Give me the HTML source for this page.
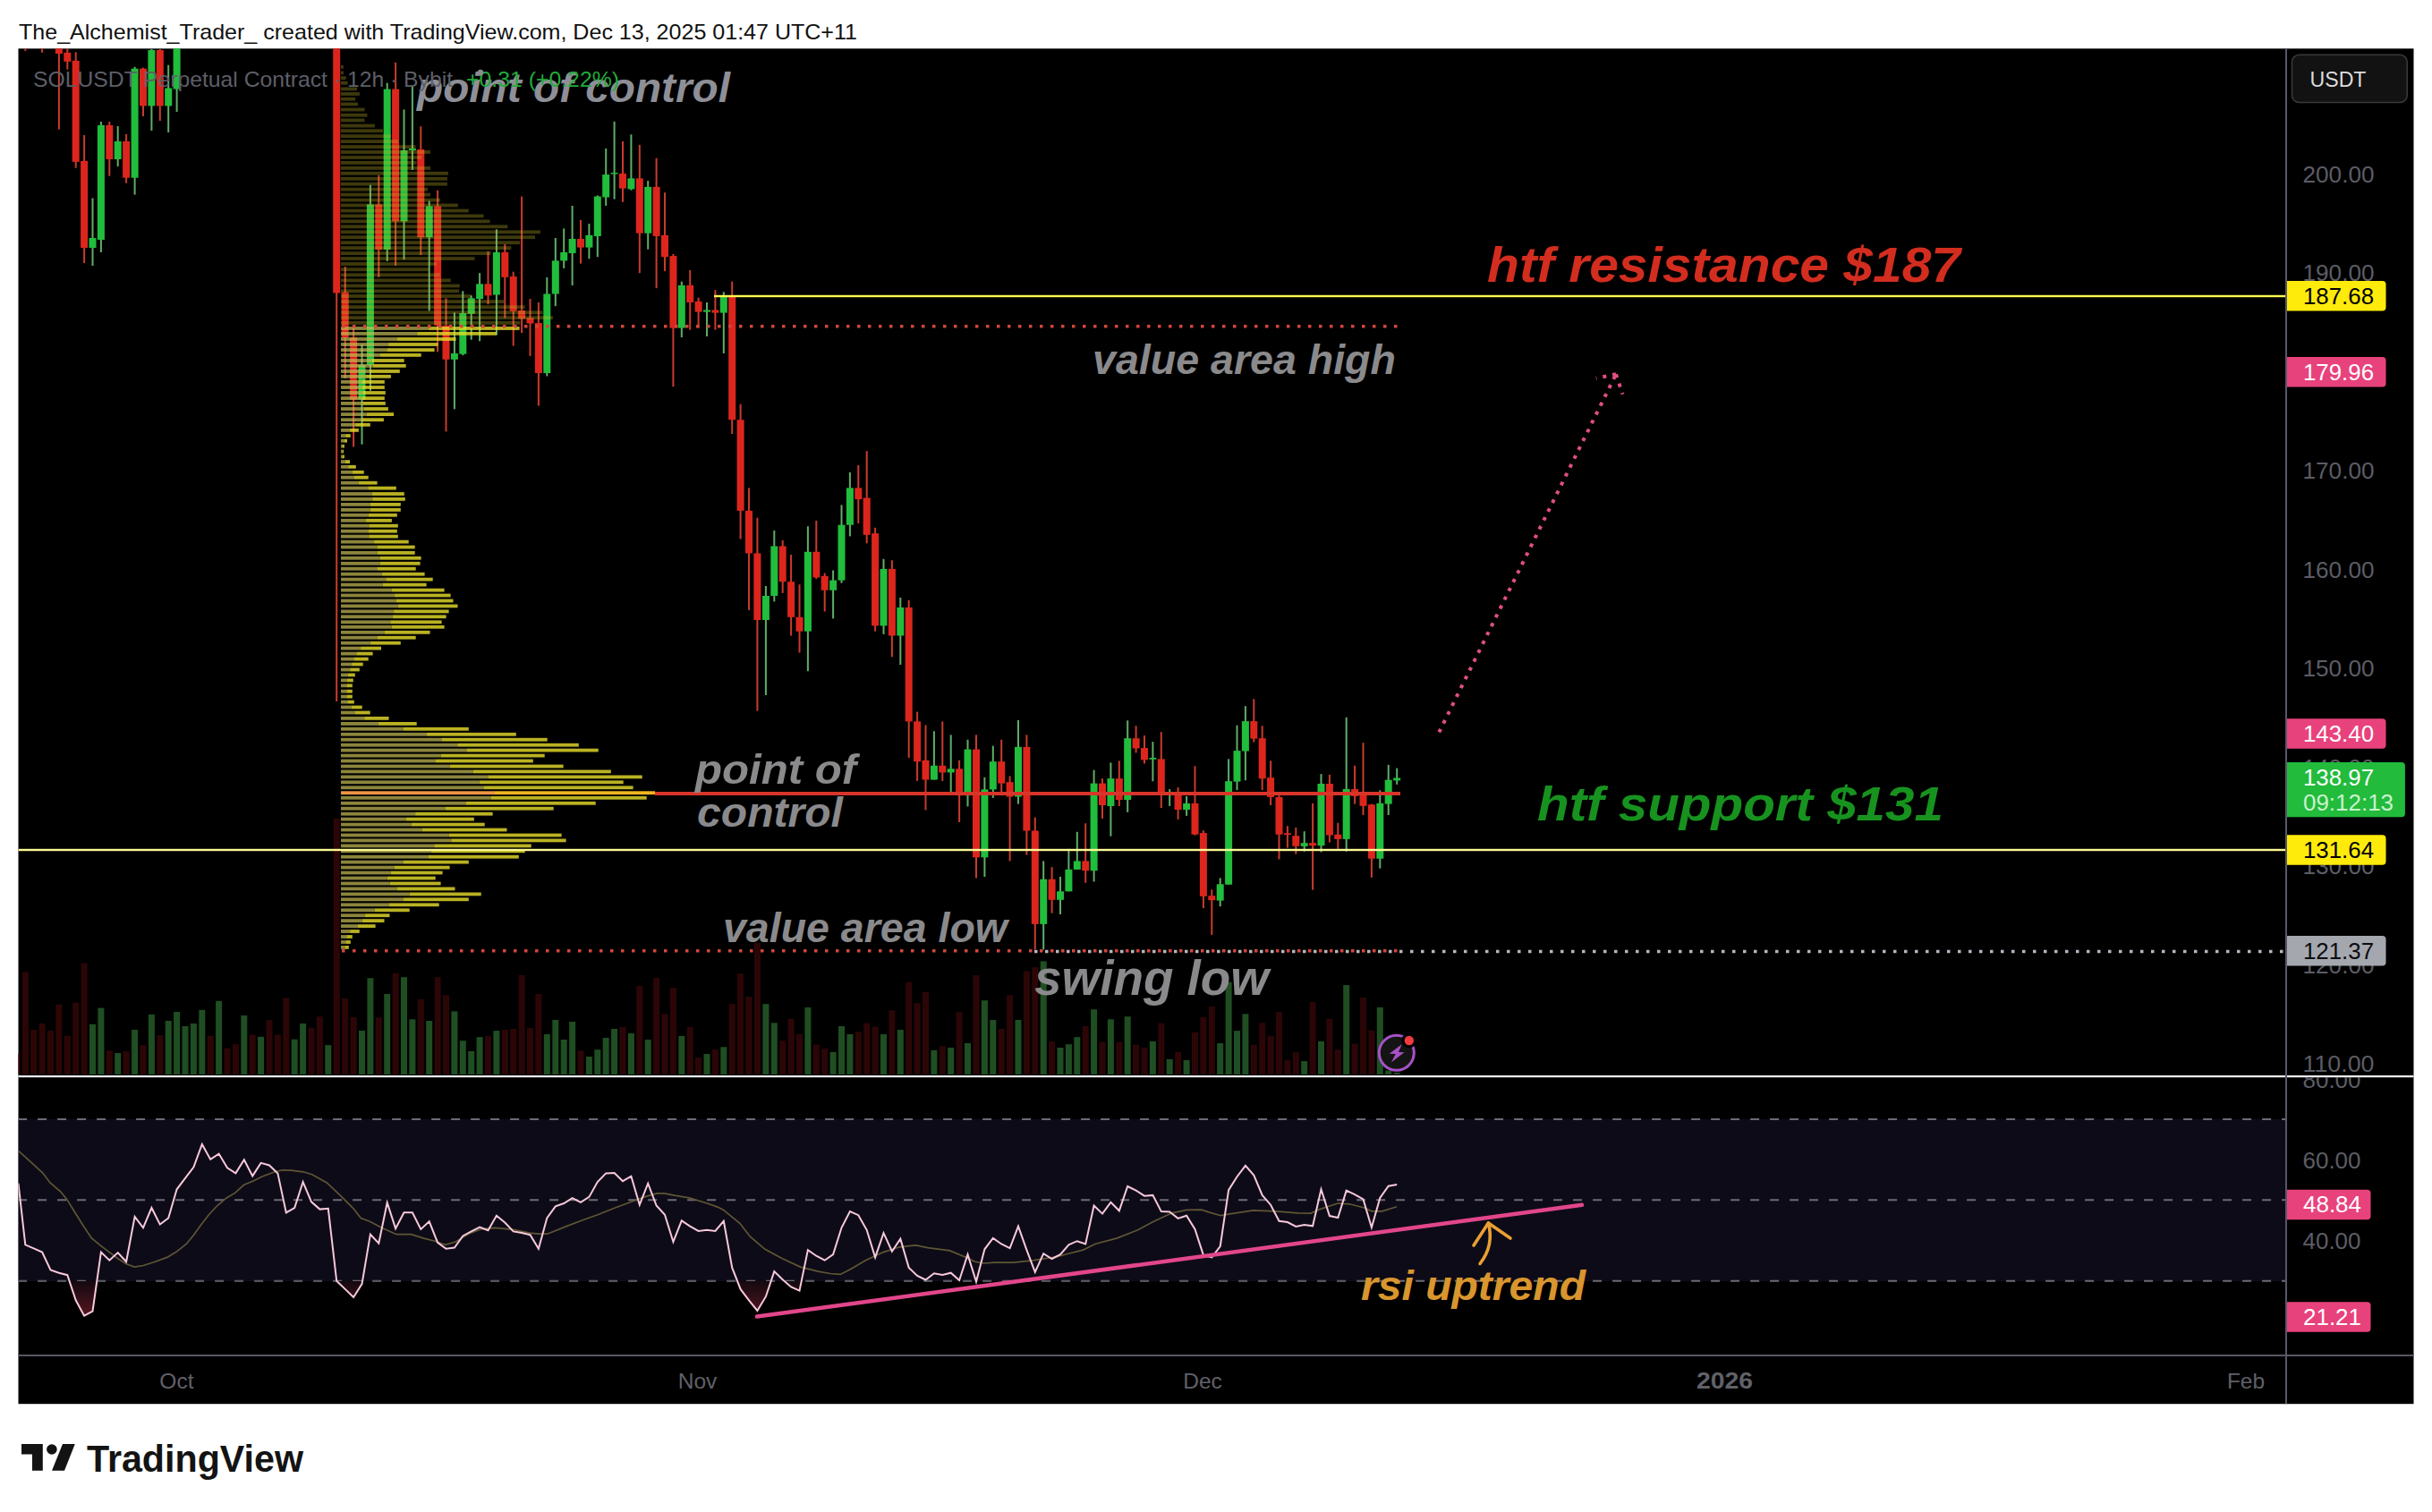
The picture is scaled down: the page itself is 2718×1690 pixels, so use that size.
<!DOCTYPE html><html><head><meta charset="utf-8"><style>html,body{margin:0;padding:0;background:#fff;overflow:hidden}svg{display:block}</style></head><body>
<svg width="2718" height="1690" viewBox="0 0 2718 1690" font-family="&apos;Liberation Sans&apos;, sans-serif">
<defs>
<clipPath id="pane"><rect x="20.5" y="54.3" width="2534" height="1147.7"/></clipPath>
<clipPath id="rsipane"><rect x="20.5" y="1204" width="2534" height="310"/></clipPath>
<clipPath id="below30"><rect x="20.5" y="1431.8" width="2534" height="82"/></clipPath>
<clipPath id="axisR"><rect x="2556" y="1204" width="142" height="310"/></clipPath>
<linearGradient id="osg" gradientUnits="userSpaceOnUse" x1="0" y1="1431.8" x2="0" y2="1476"><stop offset="0" stop-color="#140910"/><stop offset="1" stop-color="#5e1822"/></linearGradient>
</defs>
<rect x="0" y="0" width="2718" height="1690" fill="#ffffff"/>
<text x="21" y="44" font-size="23.8" fill="#111111" textLength="937" lengthAdjust="spacingAndGlyphs">The_Alchemist_Trader_ created with TradingView.com, Dec 13, 2025 01:47 UTC+11</text>
<rect x="20.5" y="54.3" width="2677" height="1514.9" fill="#000000"/>
<g clip-path="url(#pane)">
<rect x="15.4" y="1177.7" width="7" height="23.3" fill="#2c0607"/><rect x="24.8" y="1086.6" width="7" height="114.4" fill="#2c0607"/><rect x="34.2" y="1151.0" width="7" height="50.0" fill="#2c0607"/><rect x="43.6" y="1144.0" width="7" height="57.0" fill="#2c0607"/><rect x="53.0" y="1152.0" width="7" height="49.0" fill="#2c0607"/><rect x="62.4" y="1122.8" width="7" height="78.2" fill="#2c0607"/><rect x="71.8" y="1157.7" width="7" height="43.3" fill="#2c0607"/><rect x="81.2" y="1120.6" width="7" height="80.4" fill="#2c0607"/><rect x="90.6" y="1076.7" width="7" height="124.3" fill="#2c0607"/><rect x="100.0" y="1144.8" width="7" height="56.2" fill="#1f4e22"/><rect x="109.4" y="1126.6" width="7" height="74.4" fill="#1f4e22"/><rect x="118.8" y="1174.3" width="7" height="26.7" fill="#2c0607"/><rect x="128.2" y="1177.0" width="7" height="24.0" fill="#1f4e22"/><rect x="137.6" y="1175.0" width="7" height="26.0" fill="#2c0607"/><rect x="147.1" y="1151.0" width="7" height="50.0" fill="#1f4e22"/><rect x="156.5" y="1168.1" width="7" height="32.9" fill="#2c0607"/><rect x="165.9" y="1133.9" width="7" height="67.1" fill="#1f4e22"/><rect x="175.3" y="1157.0" width="7" height="44.0" fill="#2c0607"/><rect x="184.7" y="1141.0" width="7" height="60.0" fill="#1f4e22"/><rect x="194.1" y="1131.0" width="7" height="70.0" fill="#1f4e22"/><rect x="203.5" y="1147.0" width="7" height="54.0" fill="#1f4e22"/><rect x="212.9" y="1144.0" width="7" height="57.0" fill="#1f4e22"/><rect x="222.3" y="1128.8" width="7" height="72.2" fill="#1f4e22"/><rect x="231.7" y="1157.7" width="7" height="43.3" fill="#2c0607"/><rect x="241.1" y="1118.8" width="7" height="82.2" fill="#1f4e22"/><rect x="250.5" y="1171.7" width="7" height="29.3" fill="#2c0607"/><rect x="259.9" y="1167.2" width="7" height="33.8" fill="#2c0607"/><rect x="269.3" y="1135.0" width="7" height="66.0" fill="#1f4e22"/><rect x="278.7" y="1156.6" width="7" height="44.4" fill="#2c0607"/><rect x="288.1" y="1158.8" width="7" height="42.2" fill="#1f4e22"/><rect x="297.5" y="1140.0" width="7" height="61.0" fill="#2c0607"/><rect x="306.9" y="1156.6" width="7" height="44.4" fill="#2c0607"/><rect x="316.3" y="1115.5" width="7" height="85.5" fill="#2c0607"/><rect x="325.7" y="1161.7" width="7" height="39.3" fill="#1f4e22"/><rect x="335.1" y="1144.0" width="7" height="57.0" fill="#1f4e22"/><rect x="344.5" y="1148.8" width="7" height="52.2" fill="#2c0607"/><rect x="353.9" y="1136.2" width="7" height="64.8" fill="#2c0607"/><rect x="363.3" y="1168.1" width="7" height="32.9" fill="#1f4e22"/><rect x="372.7" y="915.0" width="7" height="286.0" fill="#2c0607"/><rect x="382.2" y="1116.0" width="7" height="85.0" fill="#2c0607"/><rect x="391.6" y="1137.0" width="7" height="64.0" fill="#2c0607"/><rect x="401.0" y="1152.0" width="7" height="49.0" fill="#1f4e22"/><rect x="410.4" y="1093.3" width="7" height="107.7" fill="#1f4e22"/><rect x="419.8" y="1137.3" width="7" height="63.7" fill="#2c0607"/><rect x="429.2" y="1111.0" width="7" height="90.0" fill="#1f4e22"/><rect x="438.6" y="1087.8" width="7" height="113.2" fill="#2c0607"/><rect x="448.0" y="1092.2" width="7" height="108.8" fill="#1f4e22"/><rect x="457.4" y="1139.3" width="7" height="61.7" fill="#1f4e22"/><rect x="466.8" y="1117.0" width="7" height="84.0" fill="#2c0607"/><rect x="476.2" y="1141.0" width="7" height="60.0" fill="#1f4e22"/><rect x="485.6" y="1092.2" width="7" height="108.8" fill="#2c0607"/><rect x="495.0" y="1112.2" width="7" height="88.8" fill="#2c0607"/><rect x="504.4" y="1130.4" width="7" height="70.6" fill="#1f4e22"/><rect x="513.8" y="1163.2" width="7" height="37.8" fill="#1f4e22"/><rect x="523.2" y="1175.0" width="7" height="26.0" fill="#1f4e22"/><rect x="532.6" y="1159.2" width="7" height="41.8" fill="#1f4e22"/><rect x="542.0" y="1158.1" width="7" height="42.9" fill="#2c0607"/><rect x="551.4" y="1152.1" width="7" height="48.9" fill="#1f4e22"/><rect x="560.8" y="1151.0" width="7" height="50.0" fill="#2c0607"/><rect x="570.2" y="1150.0" width="7" height="51.0" fill="#2c0607"/><rect x="579.6" y="1090.0" width="7" height="111.0" fill="#2c0607"/><rect x="589.0" y="1148.8" width="7" height="52.2" fill="#2c0607"/><rect x="598.4" y="1111.0" width="7" height="90.0" fill="#2c0607"/><rect x="607.8" y="1156.0" width="7" height="45.0" fill="#1f4e22"/><rect x="617.3" y="1140.0" width="7" height="61.0" fill="#1f4e22"/><rect x="626.7" y="1162.0" width="7" height="39.0" fill="#1f4e22"/><rect x="636.1" y="1142.0" width="7" height="59.0" fill="#1f4e22"/><rect x="645.5" y="1174.3" width="7" height="26.7" fill="#2c0607"/><rect x="654.9" y="1181.0" width="7" height="20.0" fill="#1f4e22"/><rect x="664.3" y="1173.2" width="7" height="27.8" fill="#1f4e22"/><rect x="673.7" y="1160.0" width="7" height="41.0" fill="#1f4e22"/><rect x="683.1" y="1150.0" width="7" height="51.0" fill="#1f4e22"/><rect x="692.5" y="1148.0" width="7" height="53.0" fill="#2c0607"/><rect x="701.9" y="1155.0" width="7" height="46.0" fill="#1f4e22"/><rect x="711.3" y="1102.2" width="7" height="98.8" fill="#2c0607"/><rect x="720.7" y="1162.0" width="7" height="39.0" fill="#1f4e22"/><rect x="730.1" y="1093.3" width="7" height="107.7" fill="#2c0607"/><rect x="739.5" y="1133.3" width="7" height="67.7" fill="#2c0607"/><rect x="748.9" y="1104.0" width="7" height="97.0" fill="#2c0607"/><rect x="758.3" y="1158.0" width="7" height="43.0" fill="#1f4e22"/><rect x="767.7" y="1148.0" width="7" height="53.0" fill="#2c0607"/><rect x="777.1" y="1182.0" width="7" height="19.0" fill="#2c0607"/><rect x="786.5" y="1178.0" width="7" height="23.0" fill="#1f4e22"/><rect x="795.9" y="1173.2" width="7" height="27.8" fill="#2c0607"/><rect x="805.3" y="1170.3" width="7" height="30.7" fill="#1f4e22"/><rect x="814.7" y="1122.2" width="7" height="78.8" fill="#2c0607"/><rect x="824.1" y="1088.2" width="7" height="112.8" fill="#2c0607"/><rect x="833.5" y="1114.0" width="7" height="87.0" fill="#2c0607"/><rect x="842.9" y="1054.0" width="7" height="147.0" fill="#2c0607"/><rect x="852.4" y="1122.2" width="7" height="78.8" fill="#1f4e22"/><rect x="861.8" y="1143.3" width="7" height="57.7" fill="#1f4e22"/><rect x="871.2" y="1163.2" width="7" height="37.8" fill="#2c0607"/><rect x="880.6" y="1138.8" width="7" height="62.2" fill="#2c0607"/><rect x="890.0" y="1156.0" width="7" height="45.0" fill="#2c0607"/><rect x="899.4" y="1126.0" width="7" height="75.0" fill="#1f4e22"/><rect x="908.8" y="1167.7" width="7" height="33.3" fill="#2c0607"/><rect x="918.2" y="1172.0" width="7" height="29.0" fill="#2c0607"/><rect x="927.6" y="1175.9" width="7" height="25.1" fill="#1f4e22"/><rect x="937.0" y="1147.0" width="7" height="54.0" fill="#1f4e22"/><rect x="946.4" y="1156.0" width="7" height="45.0" fill="#1f4e22"/><rect x="955.8" y="1153.2" width="7" height="47.8" fill="#2c0607"/><rect x="965.2" y="1143.7" width="7" height="57.3" fill="#2c0607"/><rect x="974.6" y="1147.7" width="7" height="53.3" fill="#2c0607"/><rect x="984.0" y="1156.0" width="7" height="45.0" fill="#1f4e22"/><rect x="993.4" y="1129.3" width="7" height="71.7" fill="#2c0607"/><rect x="1002.8" y="1151.0" width="7" height="50.0" fill="#1f4e22"/><rect x="1012.2" y="1097.7" width="7" height="103.3" fill="#2c0607"/><rect x="1021.6" y="1121.0" width="7" height="80.0" fill="#2c0607"/><rect x="1031.0" y="1108.8" width="7" height="92.2" fill="#2c0607"/><rect x="1040.4" y="1173.9" width="7" height="27.1" fill="#1f4e22"/><rect x="1049.8" y="1169.2" width="7" height="31.8" fill="#2c0607"/><rect x="1059.2" y="1171.0" width="7" height="30.0" fill="#1f4e22"/><rect x="1068.6" y="1131.5" width="7" height="69.5" fill="#2c0607"/><rect x="1078.0" y="1166.0" width="7" height="35.0" fill="#1f4e22"/><rect x="1087.5" y="1090.0" width="7" height="111.0" fill="#2c0607"/><rect x="1096.9" y="1118.2" width="7" height="82.8" fill="#1f4e22"/><rect x="1106.3" y="1140.0" width="7" height="61.0" fill="#1f4e22"/><rect x="1115.7" y="1150.0" width="7" height="51.0" fill="#2c0607"/><rect x="1125.1" y="1112.2" width="7" height="88.8" fill="#2c0607"/><rect x="1134.5" y="1140.0" width="7" height="61.0" fill="#1f4e22"/><rect x="1143.9" y="1085.5" width="7" height="115.5" fill="#2c0607"/><rect x="1153.3" y="1081.1" width="7" height="119.9" fill="#2c0607"/><rect x="1162.7" y="1074.4" width="7" height="126.6" fill="#1f4e22"/><rect x="1172.1" y="1163.9" width="7" height="37.1" fill="#2c0607"/><rect x="1181.5" y="1171.0" width="7" height="30.0" fill="#1f4e22"/><rect x="1190.9" y="1167.2" width="7" height="33.8" fill="#1f4e22"/><rect x="1200.3" y="1159.2" width="7" height="41.8" fill="#1f4e22"/><rect x="1209.7" y="1147.0" width="7" height="54.0" fill="#2c0607"/><rect x="1219.1" y="1128.2" width="7" height="72.8" fill="#1f4e22"/><rect x="1228.5" y="1164.4" width="7" height="36.6" fill="#2c0607"/><rect x="1237.9" y="1139.3" width="7" height="61.7" fill="#1f4e22"/><rect x="1247.3" y="1164.8" width="7" height="36.2" fill="#2c0607"/><rect x="1256.7" y="1136.2" width="7" height="64.8" fill="#1f4e22"/><rect x="1266.1" y="1167.7" width="7" height="33.3" fill="#2c0607"/><rect x="1275.5" y="1171.0" width="7" height="30.0" fill="#2c0607"/><rect x="1284.9" y="1163.9" width="7" height="37.1" fill="#1f4e22"/><rect x="1294.3" y="1143.7" width="7" height="57.3" fill="#2c0607"/><rect x="1303.7" y="1183.9" width="7" height="17.1" fill="#1f4e22"/><rect x="1313.1" y="1175.9" width="7" height="25.1" fill="#2c0607"/><rect x="1322.6" y="1185.0" width="7" height="16.0" fill="#1f4e22"/><rect x="1332.0" y="1153.9" width="7" height="47.1" fill="#2c0607"/><rect x="1341.4" y="1137.0" width="7" height="64.0" fill="#2c0607"/><rect x="1350.8" y="1125.0" width="7" height="76.0" fill="#2c0607"/><rect x="1360.2" y="1166.1" width="7" height="34.9" fill="#1f4e22"/><rect x="1369.6" y="1097.7" width="7" height="103.3" fill="#1f4e22"/><rect x="1379.0" y="1152.1" width="7" height="48.9" fill="#1f4e22"/><rect x="1388.4" y="1133.3" width="7" height="67.7" fill="#1f4e22"/><rect x="1397.8" y="1167.7" width="7" height="33.3" fill="#2c0607"/><rect x="1407.2" y="1143.3" width="7" height="57.7" fill="#2c0607"/><rect x="1416.6" y="1157.7" width="7" height="43.3" fill="#2c0607"/><rect x="1426.0" y="1131.0" width="7" height="70.0" fill="#2c0607"/><rect x="1435.4" y="1185.0" width="7" height="16.0" fill="#2c0607"/><rect x="1444.8" y="1176.1" width="7" height="24.9" fill="#2c0607"/><rect x="1454.2" y="1186.1" width="7" height="14.9" fill="#1f4e22"/><rect x="1463.6" y="1120.0" width="7" height="81.0" fill="#2c0607"/><rect x="1473.0" y="1163.9" width="7" height="37.1" fill="#1f4e22"/><rect x="1482.4" y="1138.8" width="7" height="62.2" fill="#2c0607"/><rect x="1491.8" y="1173.2" width="7" height="27.8" fill="#2c0607"/><rect x="1501.2" y="1101.1" width="7" height="99.9" fill="#1f4e22"/><rect x="1510.6" y="1166.6" width="7" height="34.4" fill="#2c0607"/><rect x="1520.0" y="1115.0" width="7" height="86.0" fill="#2c0607"/><rect x="1529.4" y="1151.7" width="7" height="49.3" fill="#2c0607"/><rect x="1538.8" y="1126.0" width="7" height="75.0" fill="#1f4e22"/><rect x="1548.2" y="1196.5" width="7" height="4.5" fill="#1f4e22"/><rect x="1557.7" y="1198.8" width="7" height="2.2" fill="#1f4e22"/>
<rect x="27.3" y="40.0" width="2" height="16.9" fill="#c93b2d"/><rect x="24.3" y="40.0" width="8" height="14.0" fill="#dc261d"/><rect x="46.1" y="40.0" width="2" height="18.8" fill="#c93b2d"/><rect x="43.1" y="40.0" width="8" height="14.0" fill="#dc261d"/><rect x="64.9" y="54.0" width="2" height="90.6" fill="#c93b2d"/><rect x="61.9" y="54.0" width="8" height="6.0" fill="#dc261d"/><rect x="74.3" y="54.0" width="2" height="23.7" fill="#c93b2d"/><rect x="71.3" y="58.8" width="8" height="10.0" fill="#dc261d"/><rect x="83.7" y="58.3" width="2" height="129.5" fill="#c93b2d"/><rect x="80.7" y="67.8" width="8" height="113.1" fill="#dc261d"/><rect x="93.1" y="151.0" width="2" height="143.0" fill="#c93b2d"/><rect x="90.1" y="179.9" width="8" height="97.1" fill="#dc261d"/><rect x="102.5" y="221.5" width="2" height="75.5" fill="#5fad68"/><rect x="99.5" y="266.0" width="8" height="11.0" fill="#21bd3c"/><rect x="111.9" y="136.0" width="2" height="146.0" fill="#5fad68"/><rect x="108.9" y="140.0" width="8" height="128.0" fill="#21bd3c"/><rect x="121.3" y="136.0" width="2" height="60.7" fill="#c93b2d"/><rect x="118.3" y="140.0" width="8" height="38.0" fill="#dc261d"/><rect x="130.7" y="141.0" width="2" height="45.0" fill="#5fad68"/><rect x="127.7" y="158.0" width="8" height="20.0" fill="#21bd3c"/><rect x="140.1" y="150.0" width="2" height="54.7" fill="#c93b2d"/><rect x="137.1" y="158.0" width="8" height="40.7" fill="#dc261d"/><rect x="149.6" y="74.7" width="2" height="142.9" fill="#5fad68"/><rect x="146.6" y="76.7" width="8" height="122.0" fill="#21bd3c"/><rect x="159.0" y="75.7" width="2" height="54.3" fill="#c93b2d"/><rect x="156.0" y="76.7" width="8" height="41.7" fill="#dc261d"/><rect x="168.4" y="54.9" width="2" height="91.1" fill="#5fad68"/><rect x="165.4" y="55.9" width="8" height="62.5" fill="#21bd3c"/><rect x="177.8" y="55.0" width="2" height="80.0" fill="#c93b2d"/><rect x="174.8" y="56.0" width="8" height="62.4" fill="#dc261d"/><rect x="187.2" y="72.7" width="2" height="75.3" fill="#5fad68"/><rect x="184.2" y="98.5" width="8" height="19.9" fill="#21bd3c"/><rect x="196.6" y="40.0" width="2" height="85.0" fill="#5fad68"/><rect x="193.6" y="40.0" width="8" height="59.5" fill="#21bd3c"/><rect x="375.2" y="40.0" width="2" height="744.0" fill="#c93b2d"/><rect x="372.2" y="40.0" width="8" height="287.5" fill="#dc261d"/><rect x="384.7" y="298.0" width="2" height="125.0" fill="#c93b2d"/><rect x="381.7" y="326.7" width="8" height="50.8" fill="#dc261d"/><rect x="394.1" y="364.0" width="2" height="135.5" fill="#c93b2d"/><rect x="391.1" y="377.5" width="8" height="69.2" fill="#dc261d"/><rect x="403.5" y="385.0" width="2" height="111.7" fill="#5fad68"/><rect x="400.5" y="407.9" width="8" height="38.8" fill="#21bd3c"/><rect x="412.9" y="206.7" width="2" height="230.1" fill="#5fad68"/><rect x="409.9" y="228.5" width="8" height="179.4" fill="#21bd3c"/><rect x="422.3" y="195.8" width="2" height="114.0" fill="#c93b2d"/><rect x="419.3" y="228.5" width="8" height="50.5" fill="#dc261d"/><rect x="431.7" y="92.7" width="2" height="199.3" fill="#5fad68"/><rect x="428.7" y="99.6" width="8" height="179.4" fill="#21bd3c"/><rect x="441.1" y="69.9" width="2" height="227.1" fill="#c93b2d"/><rect x="438.1" y="99.6" width="8" height="147.8" fill="#dc261d"/><rect x="450.5" y="122.4" width="2" height="167.6" fill="#5fad68"/><rect x="447.5" y="168.0" width="8" height="79.4" fill="#21bd3c"/><rect x="459.9" y="96.6" width="2" height="93.3" fill="#5fad68"/><rect x="456.9" y="166.0" width="8" height="2.0" fill="#21bd3c"/><rect x="469.3" y="141.3" width="2" height="143.7" fill="#c93b2d"/><rect x="466.3" y="167.0" width="8" height="98.2" fill="#dc261d"/><rect x="478.7" y="224.6" width="2" height="122.9" fill="#5fad68"/><rect x="475.7" y="230.5" width="8" height="34.7" fill="#21bd3c"/><rect x="488.1" y="212.7" width="2" height="180.7" fill="#c93b2d"/><rect x="485.1" y="230.5" width="8" height="133.3" fill="#dc261d"/><rect x="497.5" y="333.3" width="2" height="149.1" fill="#c93b2d"/><rect x="494.5" y="363.8" width="8" height="38.0" fill="#dc261d"/><rect x="506.9" y="349.3" width="2" height="108.0" fill="#5fad68"/><rect x="503.9" y="395.0" width="8" height="6.8" fill="#21bd3c"/><rect x="516.3" y="325.3" width="2" height="71.9" fill="#5fad68"/><rect x="513.3" y="350.0" width="8" height="45.7" fill="#21bd3c"/><rect x="525.7" y="330.3" width="2" height="49.4" fill="#5fad68"/><rect x="522.7" y="333.3" width="8" height="17.5" fill="#21bd3c"/><rect x="535.1" y="305.2" width="2" height="76.1" fill="#5fad68"/><rect x="532.1" y="317.4" width="8" height="16.7" fill="#21bd3c"/><rect x="544.5" y="281.0" width="2" height="59.2" fill="#c93b2d"/><rect x="541.5" y="317.4" width="8" height="12.9" fill="#dc261d"/><rect x="553.9" y="256.3" width="2" height="118.1" fill="#5fad68"/><rect x="550.9" y="282.0" width="8" height="47.5" fill="#21bd3c"/><rect x="563.3" y="273.0" width="2" height="82.4" fill="#c93b2d"/><rect x="560.3" y="282.0" width="8" height="27.8" fill="#dc261d"/><rect x="572.7" y="303.7" width="2" height="82.9" fill="#c93b2d"/><rect x="569.7" y="309.0" width="8" height="38.8" fill="#dc261d"/><rect x="582.1" y="219.6" width="2" height="152.5" fill="#c93b2d"/><rect x="579.1" y="347.0" width="8" height="9.2" fill="#dc261d"/><rect x="591.5" y="334.1" width="2" height="63.9" fill="#c93b2d"/><rect x="588.5" y="355.4" width="8" height="6.1" fill="#dc261d"/><rect x="600.9" y="338.0" width="2" height="115.5" fill="#c93b2d"/><rect x="597.9" y="361.0" width="8" height="56.0" fill="#dc261d"/><rect x="610.3" y="310.0" width="2" height="110.5" fill="#5fad68"/><rect x="607.3" y="328.5" width="8" height="88.5" fill="#21bd3c"/><rect x="619.8" y="266.0" width="2" height="76.2" fill="#5fad68"/><rect x="616.8" y="291.4" width="8" height="37.1" fill="#21bd3c"/><rect x="629.2" y="255.4" width="2" height="44.5" fill="#5fad68"/><rect x="626.2" y="281.9" width="8" height="9.5" fill="#21bd3c"/><rect x="638.6" y="230.0" width="2" height="89.0" fill="#5fad68"/><rect x="635.6" y="267.0" width="8" height="16.0" fill="#21bd3c"/><rect x="648.0" y="246.0" width="2" height="48.6" fill="#c93b2d"/><rect x="645.0" y="267.0" width="8" height="9.6" fill="#dc261d"/><rect x="657.4" y="250.0" width="2" height="39.3" fill="#5fad68"/><rect x="654.4" y="262.9" width="8" height="13.7" fill="#21bd3c"/><rect x="666.8" y="218.4" width="2" height="68.8" fill="#5fad68"/><rect x="663.8" y="219.5" width="8" height="44.5" fill="#21bd3c"/><rect x="676.2" y="166.0" width="2" height="64.0" fill="#5fad68"/><rect x="673.2" y="195.1" width="8" height="25.4" fill="#21bd3c"/><rect x="685.6" y="135.9" width="2" height="86.7" fill="#5fad68"/><rect x="682.6" y="193.0" width="8" height="1.5" fill="#21bd3c"/><rect x="695.0" y="158.0" width="2" height="67.8" fill="#c93b2d"/><rect x="692.0" y="194.0" width="8" height="16.6" fill="#dc261d"/><rect x="704.4" y="150.3" width="2" height="62.4" fill="#5fad68"/><rect x="701.4" y="199.4" width="8" height="12.0" fill="#21bd3c"/><rect x="713.8" y="161.9" width="2" height="143.3" fill="#c93b2d"/><rect x="710.8" y="199.4" width="8" height="61.3" fill="#dc261d"/><rect x="723.2" y="202.1" width="2" height="76.6" fill="#5fad68"/><rect x="720.2" y="208.9" width="8" height="51.8" fill="#21bd3c"/><rect x="732.6" y="176.7" width="2" height="145.4" fill="#c93b2d"/><rect x="729.6" y="208.9" width="8" height="55.0" fill="#dc261d"/><rect x="742.0" y="215.2" width="2" height="87.9" fill="#c93b2d"/><rect x="739.0" y="262.9" width="8" height="24.3" fill="#dc261d"/><rect x="751.4" y="284.0" width="2" height="148.2" fill="#c93b2d"/><rect x="748.4" y="286.1" width="8" height="80.5" fill="#dc261d"/><rect x="760.8" y="314.7" width="2" height="62.4" fill="#5fad68"/><rect x="757.8" y="318.9" width="8" height="47.7" fill="#21bd3c"/><rect x="770.2" y="302.0" width="2" height="66.7" fill="#c93b2d"/><rect x="767.2" y="318.9" width="8" height="19.1" fill="#dc261d"/><rect x="779.6" y="332.7" width="2" height="33.9" fill="#c93b2d"/><rect x="776.6" y="337.0" width="8" height="11.6" fill="#dc261d"/><rect x="789.0" y="338.0" width="2" height="38.0" fill="#5fad68"/><rect x="786.0" y="346.5" width="8" height="2.1" fill="#21bd3c"/><rect x="798.4" y="324.2" width="2" height="44.5" fill="#c93b2d"/><rect x="795.4" y="346.5" width="8" height="3.1" fill="#dc261d"/><rect x="807.8" y="326.3" width="2" height="68.7" fill="#5fad68"/><rect x="804.8" y="330.6" width="8" height="19.0" fill="#21bd3c"/><rect x="817.2" y="314.7" width="2" height="170.3" fill="#c93b2d"/><rect x="814.2" y="331.0" width="8" height="138.2" fill="#dc261d"/><rect x="826.6" y="451.7" width="2" height="150.8" fill="#c93b2d"/><rect x="823.6" y="469.2" width="8" height="101.6" fill="#dc261d"/><rect x="836.0" y="545.4" width="2" height="136.5" fill="#c93b2d"/><rect x="833.0" y="570.8" width="8" height="47.6" fill="#dc261d"/><rect x="845.4" y="578.7" width="2" height="215.9" fill="#c93b2d"/><rect x="842.4" y="618.4" width="8" height="74.6" fill="#dc261d"/><rect x="854.9" y="655.0" width="2" height="122.0" fill="#5fad68"/><rect x="851.9" y="666.0" width="8" height="27.0" fill="#21bd3c"/><rect x="864.3" y="593.0" width="2" height="79.4" fill="#5fad68"/><rect x="861.3" y="610.5" width="8" height="55.5" fill="#21bd3c"/><rect x="873.7" y="604.0" width="2" height="58.9" fill="#c93b2d"/><rect x="870.7" y="610.5" width="8" height="39.7" fill="#dc261d"/><rect x="883.1" y="620.0" width="2" height="90.5" fill="#c93b2d"/><rect x="880.1" y="650.2" width="8" height="39.6" fill="#dc261d"/><rect x="892.5" y="653.3" width="2" height="76.2" fill="#c93b2d"/><rect x="889.5" y="689.8" width="8" height="15.9" fill="#dc261d"/><rect x="901.9" y="588.3" width="2" height="161.9" fill="#5fad68"/><rect x="898.9" y="616.8" width="8" height="88.9" fill="#21bd3c"/><rect x="911.3" y="581.9" width="2" height="65.1" fill="#c93b2d"/><rect x="908.3" y="616.8" width="8" height="28.6" fill="#dc261d"/><rect x="920.7" y="640.6" width="2" height="42.9" fill="#c93b2d"/><rect x="917.7" y="643.8" width="8" height="15.9" fill="#dc261d"/><rect x="930.1" y="637.5" width="2" height="53.9" fill="#5fad68"/><rect x="927.1" y="648.6" width="8" height="11.1" fill="#21bd3c"/><rect x="939.5" y="564.4" width="2" height="87.3" fill="#5fad68"/><rect x="936.5" y="586.7" width="8" height="61.9" fill="#21bd3c"/><rect x="948.9" y="528.0" width="2" height="71.4" fill="#5fad68"/><rect x="945.9" y="545.4" width="8" height="41.3" fill="#21bd3c"/><rect x="958.3" y="520.0" width="2" height="65.0" fill="#c93b2d"/><rect x="955.3" y="545.4" width="8" height="12.6" fill="#dc261d"/><rect x="967.7" y="504.1" width="2" height="103.2" fill="#c93b2d"/><rect x="964.7" y="556.5" width="8" height="41.3" fill="#dc261d"/><rect x="977.1" y="589.8" width="2" height="115.9" fill="#c93b2d"/><rect x="974.1" y="596.2" width="8" height="103.2" fill="#dc261d"/><rect x="986.5" y="624.8" width="2" height="84.1" fill="#5fad68"/><rect x="983.5" y="635.9" width="8" height="63.5" fill="#21bd3c"/><rect x="995.9" y="626.3" width="2" height="108.0" fill="#c93b2d"/><rect x="992.9" y="635.9" width="8" height="74.6" fill="#dc261d"/><rect x="1005.3" y="668.0" width="2" height="75.0" fill="#5fad68"/><rect x="1002.3" y="679.0" width="8" height="31.5" fill="#21bd3c"/><rect x="1014.7" y="670.8" width="2" height="176.2" fill="#c93b2d"/><rect x="1011.7" y="679.0" width="8" height="127.4" fill="#dc261d"/><rect x="1024.1" y="795.6" width="2" height="77.3" fill="#c93b2d"/><rect x="1021.1" y="806.4" width="8" height="44.8" fill="#dc261d"/><rect x="1033.5" y="810.5" width="2" height="94.9" fill="#c93b2d"/><rect x="1030.5" y="849.8" width="8" height="21.7" fill="#dc261d"/><rect x="1042.9" y="817.3" width="2" height="54.2" fill="#5fad68"/><rect x="1039.9" y="855.8" width="8" height="15.7" fill="#21bd3c"/><rect x="1052.3" y="806.4" width="2" height="66.5" fill="#c93b2d"/><rect x="1049.3" y="855.8" width="8" height="7.6" fill="#dc261d"/><rect x="1061.7" y="821.4" width="2" height="63.6" fill="#5fad68"/><rect x="1058.7" y="859.3" width="8" height="4.1" fill="#21bd3c"/><rect x="1071.1" y="849.8" width="2" height="69.2" fill="#c93b2d"/><rect x="1068.1" y="859.3" width="8" height="29.9" fill="#dc261d"/><rect x="1080.5" y="826.8" width="2" height="74.6" fill="#5fad68"/><rect x="1077.5" y="837.6" width="8" height="51.6" fill="#21bd3c"/><rect x="1090.0" y="821.4" width="2" height="160.0" fill="#c93b2d"/><rect x="1087.0" y="837.6" width="8" height="120.7" fill="#dc261d"/><rect x="1099.4" y="868.8" width="2" height="111.2" fill="#5fad68"/><rect x="1096.4" y="882.4" width="8" height="75.9" fill="#21bd3c"/><rect x="1108.8" y="833.6" width="2" height="58.3" fill="#5fad68"/><rect x="1105.8" y="851.2" width="8" height="31.2" fill="#21bd3c"/><rect x="1118.2" y="826.8" width="2" height="62.4" fill="#c93b2d"/><rect x="1115.2" y="851.2" width="8" height="24.4" fill="#dc261d"/><rect x="1127.6" y="867.5" width="2" height="94.9" fill="#c93b2d"/><rect x="1124.6" y="874.2" width="8" height="16.3" fill="#dc261d"/><rect x="1137.0" y="805.0" width="2" height="93.6" fill="#5fad68"/><rect x="1134.0" y="834.9" width="8" height="55.6" fill="#21bd3c"/><rect x="1146.4" y="821.4" width="2" height="134.2" fill="#c93b2d"/><rect x="1143.4" y="834.9" width="8" height="93.6" fill="#dc261d"/><rect x="1155.8" y="913.6" width="2" height="147.8" fill="#c93b2d"/><rect x="1152.8" y="928.5" width="8" height="104.4" fill="#dc261d"/><rect x="1165.2" y="962.4" width="2" height="99.0" fill="#5fad68"/><rect x="1162.2" y="982.7" width="8" height="50.2" fill="#21bd3c"/><rect x="1174.6" y="969.2" width="2" height="51.5" fill="#c93b2d"/><rect x="1171.6" y="982.7" width="8" height="23.1" fill="#dc261d"/><rect x="1184.0" y="980.0" width="2" height="42.0" fill="#5fad68"/><rect x="1181.0" y="996.3" width="8" height="9.5" fill="#21bd3c"/><rect x="1193.4" y="948.8" width="2" height="47.5" fill="#5fad68"/><rect x="1190.4" y="971.9" width="8" height="24.4" fill="#21bd3c"/><rect x="1202.8" y="929.8" width="2" height="42.1" fill="#5fad68"/><rect x="1199.8" y="962.4" width="8" height="9.5" fill="#21bd3c"/><rect x="1212.2" y="920.3" width="2" height="66.5" fill="#c93b2d"/><rect x="1209.2" y="962.4" width="8" height="10.8" fill="#dc261d"/><rect x="1221.6" y="860.7" width="2" height="124.7" fill="#5fad68"/><rect x="1218.6" y="875.6" width="8" height="97.6" fill="#21bd3c"/><rect x="1231.0" y="870.2" width="2" height="44.7" fill="#c93b2d"/><rect x="1228.0" y="875.6" width="8" height="24.4" fill="#dc261d"/><rect x="1240.4" y="852.4" width="2" height="82.3" fill="#5fad68"/><rect x="1237.4" y="870.2" width="8" height="30.8" fill="#21bd3c"/><rect x="1249.8" y="850.4" width="2" height="50.6" fill="#c93b2d"/><rect x="1246.8" y="870.2" width="8" height="23.8" fill="#dc261d"/><rect x="1259.2" y="805.3" width="2" height="102.6" fill="#5fad68"/><rect x="1256.2" y="825.2" width="8" height="68.8" fill="#21bd3c"/><rect x="1268.6" y="811.3" width="2" height="30.1" fill="#c93b2d"/><rect x="1265.6" y="825.2" width="8" height="11.3" fill="#dc261d"/><rect x="1278.0" y="822.2" width="2" height="31.2" fill="#c93b2d"/><rect x="1275.0" y="836.1" width="8" height="13.3" fill="#dc261d"/><rect x="1287.4" y="829.1" width="2" height="44.1" fill="#5fad68"/><rect x="1284.4" y="847.0" width="8" height="1.8" fill="#21bd3c"/><rect x="1296.8" y="818.2" width="2" height="84.8" fill="#c93b2d"/><rect x="1293.8" y="848.4" width="8" height="38.7" fill="#dc261d"/><rect x="1306.2" y="882.1" width="2" height="18.9" fill="#5fad68"/><rect x="1303.2" y="886.6" width="8" height="1.8" fill="#21bd3c"/><rect x="1315.6" y="880.1" width="2" height="35.8" fill="#c93b2d"/><rect x="1312.6" y="888.1" width="8" height="16.9" fill="#dc261d"/><rect x="1325.1" y="890.0" width="2" height="21.9" fill="#5fad68"/><rect x="1322.1" y="898.0" width="8" height="7.0" fill="#21bd3c"/><rect x="1334.5" y="856.3" width="2" height="77.4" fill="#c93b2d"/><rect x="1331.5" y="898.0" width="8" height="34.7" fill="#dc261d"/><rect x="1343.9" y="928.2" width="2" height="86.9" fill="#c93b2d"/><rect x="1340.9" y="931.1" width="8" height="70.7" fill="#dc261d"/><rect x="1353.3" y="994.3" width="2" height="50.6" fill="#c93b2d"/><rect x="1350.3" y="1001.2" width="8" height="5.0" fill="#dc261d"/><rect x="1362.7" y="981.4" width="2" height="31.7" fill="#5fad68"/><rect x="1359.7" y="988.3" width="8" height="18.3" fill="#21bd3c"/><rect x="1372.1" y="848.4" width="2" height="140.3" fill="#5fad68"/><rect x="1369.1" y="873.2" width="8" height="115.5" fill="#21bd3c"/><rect x="1381.5" y="810.7" width="2" height="72.4" fill="#5fad68"/><rect x="1378.5" y="839.1" width="8" height="34.5" fill="#21bd3c"/><rect x="1390.9" y="789.2" width="2" height="83.0" fill="#5fad68"/><rect x="1387.9" y="806.1" width="8" height="33.4" fill="#21bd3c"/><rect x="1400.3" y="781.3" width="2" height="48.2" fill="#c93b2d"/><rect x="1397.3" y="806.1" width="8" height="19.5" fill="#dc261d"/><rect x="1409.7" y="811.3" width="2" height="71.8" fill="#c93b2d"/><rect x="1406.7" y="825.2" width="8" height="45.0" fill="#dc261d"/><rect x="1419.1" y="850.4" width="2" height="49.6" fill="#c93b2d"/><rect x="1416.1" y="869.2" width="8" height="21.8" fill="#dc261d"/><rect x="1428.5" y="889.1" width="2" height="71.4" fill="#c93b2d"/><rect x="1425.5" y="891.0" width="8" height="41.7" fill="#dc261d"/><rect x="1437.9" y="923.2" width="2" height="24.4" fill="#c93b2d"/><rect x="1434.9" y="931.3" width="8" height="1.8" fill="#dc261d"/><rect x="1447.3" y="925.0" width="2" height="29.6" fill="#c93b2d"/><rect x="1444.3" y="934.2" width="8" height="11.6" fill="#dc261d"/><rect x="1456.7" y="929.2" width="2" height="22.5" fill="#5fad68"/><rect x="1453.7" y="942.2" width="8" height="3.7" fill="#21bd3c"/><rect x="1466.1" y="897.9" width="2" height="96.7" fill="#c93b2d"/><rect x="1463.1" y="942.2" width="8" height="3.0" fill="#dc261d"/><rect x="1475.5" y="865.1" width="2" height="87.3" fill="#5fad68"/><rect x="1472.5" y="876.0" width="8" height="69.2" fill="#21bd3c"/><rect x="1484.9" y="865.9" width="2" height="75.6" fill="#c93b2d"/><rect x="1481.9" y="876.0" width="8" height="57.5" fill="#dc261d"/><rect x="1494.3" y="919.7" width="2" height="29.1" fill="#c93b2d"/><rect x="1491.3" y="932.8" width="8" height="5.1" fill="#dc261d"/><rect x="1503.7" y="801.8" width="2" height="149.9" fill="#5fad68"/><rect x="1500.7" y="881.9" width="8" height="56.0" fill="#21bd3c"/><rect x="1513.1" y="855.7" width="2" height="42.9" fill="#c93b2d"/><rect x="1510.1" y="881.9" width="8" height="8.0" fill="#dc261d"/><rect x="1522.5" y="830.2" width="2" height="80.8" fill="#c93b2d"/><rect x="1519.5" y="885.5" width="8" height="15.3" fill="#dc261d"/><rect x="1531.9" y="898.6" width="2" height="82.2" fill="#c93b2d"/><rect x="1528.9" y="899.3" width="8" height="60.4" fill="#dc261d"/><rect x="1541.3" y="883.3" width="2" height="87.3" fill="#5fad68"/><rect x="1538.3" y="897.9" width="8" height="61.8" fill="#21bd3c"/><rect x="1550.7" y="854.9" width="2" height="56.1" fill="#5fad68"/><rect x="1547.7" y="871.7" width="8" height="26.9" fill="#21bd3c"/><rect x="1560.2" y="858.6" width="2" height="18.2" fill="#5fad68"/><rect x="1557.2" y="869.5" width="8" height="2.9" fill="#21bd3c"/>
<rect x="381.0" y="72.9" width="2.9" height="3.8" fill="rgb(205,190,40)" fill-opacity="0.30"/><rect x="381.0" y="79.5" width="2.9" height="3.8" fill="rgb(205,190,40)" fill-opacity="0.30"/><rect x="381.0" y="85.2" width="5.7" height="3.8" fill="rgb(205,190,40)" fill-opacity="0.30"/><rect x="381.0" y="90.9" width="7.6" height="3.8" fill="rgb(205,190,40)" fill-opacity="0.30"/><rect x="381.0" y="97.5" width="18.0" height="3.8" fill="rgb(205,190,40)" fill-opacity="0.30"/><rect x="381.0" y="103.1" width="20.9" height="3.8" fill="rgb(205,190,40)" fill-opacity="0.30"/><rect x="381.0" y="108.8" width="16.1" height="3.8" fill="rgb(205,190,40)" fill-opacity="0.30"/><rect x="381.0" y="114.5" width="19.0" height="3.8" fill="rgb(205,190,40)" fill-opacity="0.30"/><rect x="381.0" y="120.6" width="26.5" height="3.8" fill="rgb(205,190,40)" fill-opacity="0.30"/><rect x="381.0" y="126.8" width="29.4" height="3.8" fill="rgb(205,190,40)" fill-opacity="0.30"/><rect x="381.0" y="132.5" width="26.5" height="3.8" fill="rgb(205,190,40)" fill-opacity="0.30"/><rect x="381.0" y="138.7" width="37.9" height="3.8" fill="rgb(205,190,40)" fill-opacity="0.30"/><rect x="381.0" y="144.3" width="47.0" height="3.8" fill="rgb(205,190,40)" fill-opacity="0.30"/><rect x="381.0" y="150.3" width="56.0" height="3.8" fill="rgb(205,190,40)" fill-opacity="0.30"/><rect x="381.0" y="156.2" width="64.0" height="3.8" fill="rgb(205,190,40)" fill-opacity="0.30"/><rect x="381.0" y="162.2" width="83.6" height="3.8" fill="rgb(205,190,40)" fill-opacity="0.30"/><rect x="381.0" y="168.1" width="100.0" height="3.8" fill="rgb(205,190,40)" fill-opacity="0.30"/><rect x="381.0" y="174.1" width="90.0" height="3.8" fill="rgb(205,190,40)" fill-opacity="0.30"/><rect x="381.0" y="180.0" width="84.6" height="3.8" fill="rgb(205,190,40)" fill-opacity="0.30"/><rect x="381.0" y="186.0" width="100.0" height="3.8" fill="rgb(205,190,40)" fill-opacity="0.30"/><rect x="381.0" y="191.9" width="119.9" height="3.8" fill="rgb(205,190,40)" fill-opacity="0.30"/><rect x="381.0" y="197.9" width="118.9" height="3.8" fill="rgb(205,190,40)" fill-opacity="0.30"/><rect x="381.0" y="203.8" width="118.9" height="3.8" fill="rgb(205,190,40)" fill-opacity="0.30"/><rect x="381.0" y="209.8" width="97.0" height="3.8" fill="rgb(205,190,40)" fill-opacity="0.30"/><rect x="381.0" y="215.7" width="100.0" height="3.8" fill="rgb(205,190,40)" fill-opacity="0.30"/><rect x="381.0" y="221.7" width="111.0" height="3.8" fill="rgb(205,190,40)" fill-opacity="0.30"/><rect x="381.0" y="227.6" width="130.8" height="3.8" fill="rgb(205,190,40)" fill-opacity="0.30"/><rect x="381.0" y="233.6" width="142.7" height="3.8" fill="rgb(205,190,40)" fill-opacity="0.30"/><rect x="381.0" y="239.5" width="159.5" height="3.8" fill="rgb(205,190,40)" fill-opacity="0.30"/><rect x="381.0" y="245.5" width="166.5" height="3.8" fill="rgb(205,190,40)" fill-opacity="0.30"/><rect x="381.0" y="251.4" width="186.3" height="3.8" fill="rgb(205,190,40)" fill-opacity="0.30"/><rect x="381.0" y="257.4" width="223.0" height="3.8" fill="rgb(205,190,40)" fill-opacity="0.30"/><rect x="381.0" y="263.3" width="217.0" height="3.8" fill="rgb(205,190,40)" fill-opacity="0.30"/><rect x="381.0" y="269.3" width="200.2" height="3.8" fill="rgb(205,190,40)" fill-opacity="0.30"/><rect x="381.0" y="275.2" width="190.3" height="3.8" fill="rgb(205,190,40)" fill-opacity="0.30"/><rect x="381.0" y="281.2" width="167.7" height="3.8" fill="rgb(205,190,40)" fill-opacity="0.30"/><rect x="381.0" y="287.1" width="149.6" height="3.8" fill="rgb(205,190,40)" fill-opacity="0.30"/><rect x="381.0" y="293.1" width="107.0" height="3.8" fill="rgb(205,190,40)" fill-opacity="0.30"/><rect x="381.0" y="299.3" width="99.0" height="3.8" fill="rgb(205,190,40)" fill-opacity="0.30"/><rect x="381.0" y="305.4" width="110.7" height="3.8" fill="rgb(205,190,40)" fill-opacity="0.30"/><rect x="381.0" y="311.5" width="122.8" height="3.8" fill="rgb(205,190,40)" fill-opacity="0.30"/><rect x="381.0" y="317.6" width="132.7" height="3.8" fill="rgb(205,190,40)" fill-opacity="0.30"/><rect x="381.0" y="323.4" width="132.0" height="3.8" fill="rgb(205,190,40)" fill-opacity="0.30"/><rect x="381.0" y="329.1" width="145.7" height="3.8" fill="rgb(205,190,40)" fill-opacity="0.30"/><rect x="381.0" y="335.2" width="182.2" height="3.8" fill="rgb(205,190,40)" fill-opacity="0.30"/><rect x="381.0" y="341.3" width="205.7" height="3.8" fill="rgb(205,190,40)" fill-opacity="0.30"/><rect x="381.0" y="347.4" width="225.5" height="3.8" fill="rgb(205,190,40)" fill-opacity="0.30"/><rect x="381.0" y="353.2" width="236.9" height="3.8" fill="rgb(205,190,40)" fill-opacity="0.30"/><rect x="381.0" y="359.0" width="200.4" height="3.8" fill="rgb(205,190,40)" fill-opacity="0.30"/><rect x="381.0" y="365.1" width="97.8" height="3.8" fill="rgb(200,190,85)" fill-opacity="0.70"/><rect x="478.8" y="365.1" width="101.8" height="3.8" fill="rgb(232,222,42)" fill-opacity="0.80"/><rect x="381.0" y="371.0" width="85.2" height="3.8" fill="rgb(200,190,85)" fill-opacity="0.70"/><rect x="466.2" y="371.0" width="88.6" height="3.8" fill="rgb(232,222,42)" fill-opacity="0.80"/><rect x="381.0" y="377.1" width="63.0" height="3.8" fill="rgb(200,190,85)" fill-opacity="0.70"/><rect x="444.0" y="377.1" width="65.6" height="3.8" fill="rgb(232,222,42)" fill-opacity="0.80"/><rect x="381.0" y="383.1" width="53.1" height="3.8" fill="rgb(200,190,85)" fill-opacity="0.70"/><rect x="434.1" y="383.1" width="55.3" height="3.8" fill="rgb(232,222,42)" fill-opacity="0.80"/><rect x="381.0" y="389.2" width="51.3" height="3.8" fill="rgb(200,190,85)" fill-opacity="0.70"/><rect x="432.3" y="389.2" width="53.3" height="3.8" fill="rgb(232,222,42)" fill-opacity="0.80"/><rect x="381.0" y="395.0" width="44.0" height="3.8" fill="rgb(200,190,85)" fill-opacity="0.70"/><rect x="425.0" y="395.0" width="45.7" height="3.8" fill="rgb(232,222,42)" fill-opacity="0.80"/><rect x="381.0" y="401.1" width="34.6" height="3.8" fill="rgb(200,190,85)" fill-opacity="0.70"/><rect x="415.6" y="401.1" width="36.1" height="3.8" fill="rgb(232,222,42)" fill-opacity="0.80"/><rect x="381.0" y="407.0" width="35.6" height="3.8" fill="rgb(200,190,85)" fill-opacity="0.70"/><rect x="416.6" y="407.0" width="37.1" height="3.8" fill="rgb(232,222,42)" fill-opacity="0.80"/><rect x="381.0" y="413.1" width="32.2" height="3.8" fill="rgb(200,190,85)" fill-opacity="0.70"/><rect x="413.2" y="413.1" width="33.6" height="3.8" fill="rgb(232,222,42)" fill-opacity="0.80"/><rect x="381.0" y="418.9" width="27.4" height="3.8" fill="rgb(200,190,85)" fill-opacity="0.70"/><rect x="408.4" y="418.9" width="28.5" height="3.8" fill="rgb(232,222,42)" fill-opacity="0.80"/><rect x="381.0" y="425.0" width="23.9" height="3.8" fill="rgb(200,190,85)" fill-opacity="0.70"/><rect x="404.9" y="425.0" width="24.9" height="3.8" fill="rgb(232,222,42)" fill-opacity="0.80"/><rect x="381.0" y="431.1" width="23.9" height="3.8" fill="rgb(200,190,85)" fill-opacity="0.70"/><rect x="404.9" y="431.1" width="24.9" height="3.8" fill="rgb(232,222,42)" fill-opacity="0.80"/><rect x="381.0" y="437.1" width="24.4" height="3.8" fill="rgb(200,190,85)" fill-opacity="0.70"/><rect x="405.4" y="437.1" width="25.4" height="3.8" fill="rgb(232,222,42)" fill-opacity="0.80"/><rect x="381.0" y="443.2" width="23.9" height="3.8" fill="rgb(200,190,85)" fill-opacity="0.70"/><rect x="404.9" y="443.2" width="24.9" height="3.8" fill="rgb(232,222,42)" fill-opacity="0.80"/><rect x="381.0" y="449.0" width="24.4" height="3.8" fill="rgb(200,190,85)" fill-opacity="0.70"/><rect x="405.4" y="449.0" width="25.4" height="3.8" fill="rgb(232,222,42)" fill-opacity="0.80"/><rect x="381.0" y="455.1" width="25.9" height="3.8" fill="rgb(200,190,85)" fill-opacity="0.70"/><rect x="406.9" y="455.1" width="27.0" height="3.8" fill="rgb(232,222,42)" fill-opacity="0.80"/><rect x="381.0" y="461.2" width="28.9" height="3.8" fill="rgb(200,190,85)" fill-opacity="0.70"/><rect x="409.9" y="461.2" width="30.1" height="3.8" fill="rgb(232,222,42)" fill-opacity="0.80"/><rect x="381.0" y="467.3" width="23.5" height="3.8" fill="rgb(200,190,85)" fill-opacity="0.70"/><rect x="404.5" y="467.3" width="24.4" height="3.8" fill="rgb(232,222,42)" fill-opacity="0.80"/><rect x="381.0" y="472.9" width="16.1" height="3.8" fill="rgb(200,190,85)" fill-opacity="0.70"/><rect x="397.1" y="472.9" width="16.7" height="3.8" fill="rgb(232,222,42)" fill-opacity="0.80"/><rect x="381.0" y="479.0" width="9.8" height="3.8" fill="rgb(200,190,85)" fill-opacity="0.70"/><rect x="390.8" y="479.0" width="10.1" height="3.8" fill="rgb(232,222,42)" fill-opacity="0.80"/><rect x="381.0" y="485.1" width="5.2" height="3.8" fill="rgb(200,190,85)" fill-opacity="0.70"/><rect x="386.2" y="485.1" width="5.5" height="3.8" fill="rgb(232,222,42)" fill-opacity="0.80"/><rect x="381.0" y="490.8" width="3.4" height="3.8" fill="rgb(200,190,85)" fill-opacity="0.70"/><rect x="384.4" y="490.8" width="3.6" height="3.8" fill="rgb(232,222,42)" fill-opacity="0.80"/><rect x="381.0" y="496.8" width="1.9" height="3.8" fill="rgb(200,190,85)" fill-opacity="0.70"/><rect x="382.9" y="496.8" width="2.0" height="3.8" fill="rgb(232,222,42)" fill-opacity="0.80"/><rect x="381.0" y="502.7" width="1.5" height="3.8" fill="rgb(200,190,85)" fill-opacity="0.70"/><rect x="382.5" y="502.7" width="1.5" height="3.8" fill="rgb(232,222,42)" fill-opacity="0.80"/><rect x="381.0" y="508.5" width="1.9" height="3.8" fill="rgb(200,190,85)" fill-opacity="0.70"/><rect x="382.9" y="508.5" width="2.0" height="3.8" fill="rgb(232,222,42)" fill-opacity="0.80"/><rect x="381.0" y="514.2" width="4.9" height="3.8" fill="rgb(200,190,85)" fill-opacity="0.70"/><rect x="385.9" y="514.2" width="5.1" height="3.8" fill="rgb(232,222,42)" fill-opacity="0.80"/><rect x="381.0" y="519.9" width="8.2" height="3.8" fill="rgb(200,190,85)" fill-opacity="0.70"/><rect x="389.2" y="519.9" width="8.6" height="3.8" fill="rgb(232,222,42)" fill-opacity="0.80"/><rect x="381.0" y="525.9" width="12.6" height="3.8" fill="rgb(200,190,85)" fill-opacity="0.70"/><rect x="393.6" y="525.9" width="13.1" height="3.8" fill="rgb(232,222,42)" fill-opacity="0.80"/><rect x="381.0" y="531.8" width="15.0" height="3.8" fill="rgb(200,190,85)" fill-opacity="0.70"/><rect x="396.0" y="531.8" width="15.7" height="3.8" fill="rgb(232,222,42)" fill-opacity="0.80"/><rect x="381.0" y="537.8" width="19.9" height="3.8" fill="rgb(200,190,85)" fill-opacity="0.70"/><rect x="400.9" y="537.8" width="20.7" height="3.8" fill="rgb(232,222,42)" fill-opacity="0.80"/><rect x="381.0" y="543.7" width="30.3" height="3.8" fill="rgb(200,190,85)" fill-opacity="0.70"/><rect x="411.3" y="543.7" width="31.5" height="3.8" fill="rgb(232,222,42)" fill-opacity="0.80"/><rect x="381.0" y="550.1" width="34.7" height="3.8" fill="rgb(200,190,85)" fill-opacity="0.70"/><rect x="415.7" y="550.1" width="36.1" height="3.8" fill="rgb(232,222,42)" fill-opacity="0.80"/><rect x="381.0" y="556.0" width="35.2" height="3.8" fill="rgb(200,190,85)" fill-opacity="0.70"/><rect x="416.2" y="556.0" width="36.6" height="3.8" fill="rgb(232,222,42)" fill-opacity="0.80"/><rect x="381.0" y="562.0" width="32.7" height="3.8" fill="rgb(200,190,85)" fill-opacity="0.70"/><rect x="413.7" y="562.0" width="34.1" height="3.8" fill="rgb(232,222,42)" fill-opacity="0.80"/><rect x="381.0" y="568.0" width="32.7" height="3.8" fill="rgb(200,190,85)" fill-opacity="0.70"/><rect x="413.7" y="568.0" width="34.1" height="3.8" fill="rgb(232,222,42)" fill-opacity="0.80"/><rect x="381.0" y="573.9" width="30.8" height="3.8" fill="rgb(200,190,85)" fill-opacity="0.70"/><rect x="411.8" y="573.9" width="32.0" height="3.8" fill="rgb(232,222,42)" fill-opacity="0.80"/><rect x="381.0" y="579.9" width="27.9" height="3.8" fill="rgb(200,190,85)" fill-opacity="0.70"/><rect x="408.9" y="579.9" width="29.0" height="3.8" fill="rgb(232,222,42)" fill-opacity="0.80"/><rect x="381.0" y="585.8" width="31.3" height="3.8" fill="rgb(200,190,85)" fill-opacity="0.70"/><rect x="412.3" y="585.8" width="32.5" height="3.8" fill="rgb(232,222,42)" fill-opacity="0.80"/><rect x="381.0" y="591.8" width="30.8" height="3.8" fill="rgb(200,190,85)" fill-opacity="0.70"/><rect x="411.8" y="591.8" width="32.0" height="3.8" fill="rgb(232,222,42)" fill-opacity="0.80"/><rect x="381.0" y="597.7" width="31.3" height="3.8" fill="rgb(200,190,85)" fill-opacity="0.70"/><rect x="412.3" y="597.7" width="32.5" height="3.8" fill="rgb(232,222,42)" fill-opacity="0.80"/><rect x="381.0" y="603.7" width="37.1" height="3.8" fill="rgb(200,190,85)" fill-opacity="0.70"/><rect x="418.1" y="603.7" width="38.6" height="3.8" fill="rgb(232,222,42)" fill-opacity="0.80"/><rect x="381.0" y="609.6" width="40.5" height="3.8" fill="rgb(200,190,85)" fill-opacity="0.70"/><rect x="421.5" y="609.6" width="42.2" height="3.8" fill="rgb(232,222,42)" fill-opacity="0.80"/><rect x="381.0" y="616.0" width="40.5" height="3.8" fill="rgb(200,190,85)" fill-opacity="0.70"/><rect x="421.5" y="616.0" width="42.2" height="3.8" fill="rgb(232,222,42)" fill-opacity="0.80"/><rect x="381.0" y="621.9" width="43.9" height="3.8" fill="rgb(200,190,85)" fill-opacity="0.70"/><rect x="424.9" y="621.9" width="45.7" height="3.8" fill="rgb(232,222,42)" fill-opacity="0.80"/><rect x="381.0" y="627.9" width="43.4" height="3.8" fill="rgb(200,190,85)" fill-opacity="0.70"/><rect x="424.4" y="627.9" width="45.2" height="3.8" fill="rgb(232,222,42)" fill-opacity="0.80"/><rect x="381.0" y="633.8" width="41.0" height="3.8" fill="rgb(200,190,85)" fill-opacity="0.70"/><rect x="422.0" y="633.8" width="42.7" height="3.8" fill="rgb(232,222,42)" fill-opacity="0.80"/><rect x="381.0" y="639.8" width="45.9" height="3.8" fill="rgb(200,190,85)" fill-opacity="0.70"/><rect x="426.9" y="639.8" width="47.7" height="3.8" fill="rgb(232,222,42)" fill-opacity="0.80"/><rect x="381.0" y="645.7" width="50.3" height="3.8" fill="rgb(200,190,85)" fill-opacity="0.70"/><rect x="431.3" y="645.7" width="52.4" height="3.8" fill="rgb(232,222,42)" fill-opacity="0.80"/><rect x="381.0" y="651.7" width="46.8" height="3.8" fill="rgb(200,190,85)" fill-opacity="0.70"/><rect x="427.8" y="651.7" width="48.8" height="3.8" fill="rgb(232,222,42)" fill-opacity="0.80"/><rect x="381.0" y="657.7" width="56.6" height="3.8" fill="rgb(200,190,85)" fill-opacity="0.70"/><rect x="437.6" y="657.7" width="59.0" height="3.8" fill="rgb(232,222,42)" fill-opacity="0.80"/><rect x="381.0" y="663.6" width="60.1" height="3.8" fill="rgb(200,190,85)" fill-opacity="0.70"/><rect x="441.1" y="663.6" width="62.5" height="3.8" fill="rgb(232,222,42)" fill-opacity="0.80"/><rect x="381.0" y="669.6" width="61.5" height="3.8" fill="rgb(200,190,85)" fill-opacity="0.70"/><rect x="442.5" y="669.6" width="64.0" height="3.8" fill="rgb(232,222,42)" fill-opacity="0.80"/><rect x="381.0" y="675.5" width="63.9" height="3.8" fill="rgb(200,190,85)" fill-opacity="0.70"/><rect x="444.9" y="675.5" width="66.6" height="3.8" fill="rgb(232,222,42)" fill-opacity="0.80"/><rect x="381.0" y="681.5" width="59.1" height="3.8" fill="rgb(200,190,85)" fill-opacity="0.70"/><rect x="440.1" y="681.5" width="61.5" height="3.8" fill="rgb(232,222,42)" fill-opacity="0.80"/><rect x="381.0" y="687.4" width="57.6" height="3.8" fill="rgb(200,190,85)" fill-opacity="0.70"/><rect x="438.6" y="687.4" width="60.0" height="3.8" fill="rgb(232,222,42)" fill-opacity="0.80"/><rect x="381.0" y="693.4" width="55.2" height="3.8" fill="rgb(200,190,85)" fill-opacity="0.70"/><rect x="436.2" y="693.4" width="57.4" height="3.8" fill="rgb(232,222,42)" fill-opacity="0.80"/><rect x="381.0" y="698.9" width="56.6" height="3.8" fill="rgb(200,190,85)" fill-opacity="0.70"/><rect x="437.6" y="698.9" width="59.0" height="3.8" fill="rgb(232,222,42)" fill-opacity="0.80"/><rect x="381.0" y="704.9" width="48.8" height="3.8" fill="rgb(200,190,85)" fill-opacity="0.70"/><rect x="429.8" y="704.9" width="50.7" height="3.8" fill="rgb(232,222,42)" fill-opacity="0.80"/><rect x="381.0" y="710.8" width="41.0" height="3.8" fill="rgb(200,190,85)" fill-opacity="0.70"/><rect x="422.0" y="710.8" width="42.7" height="3.8" fill="rgb(232,222,42)" fill-opacity="0.80"/><rect x="381.0" y="716.8" width="32.7" height="3.8" fill="rgb(200,190,85)" fill-opacity="0.70"/><rect x="413.7" y="716.8" width="34.1" height="3.8" fill="rgb(232,222,42)" fill-opacity="0.80"/><rect x="381.0" y="722.7" width="22.1" height="3.8" fill="rgb(200,190,85)" fill-opacity="0.70"/><rect x="403.1" y="722.7" width="22.9" height="3.8" fill="rgb(232,222,42)" fill-opacity="0.80"/><rect x="381.0" y="728.7" width="17.4" height="3.8" fill="rgb(200,190,85)" fill-opacity="0.70"/><rect x="398.4" y="728.7" width="18.2" height="3.8" fill="rgb(232,222,42)" fill-opacity="0.80"/><rect x="381.0" y="734.7" width="15.0" height="3.8" fill="rgb(200,190,85)" fill-opacity="0.70"/><rect x="396.0" y="734.7" width="15.7" height="3.8" fill="rgb(232,222,42)" fill-opacity="0.80"/><rect x="381.0" y="740.6" width="12.1" height="3.8" fill="rgb(200,190,85)" fill-opacity="0.70"/><rect x="393.1" y="740.6" width="12.6" height="3.8" fill="rgb(232,222,42)" fill-opacity="0.80"/><rect x="381.0" y="746.6" width="10.2" height="3.8" fill="rgb(200,190,85)" fill-opacity="0.70"/><rect x="391.2" y="746.6" width="10.6" height="3.8" fill="rgb(232,222,42)" fill-opacity="0.80"/><rect x="381.0" y="752.5" width="7.7" height="3.8" fill="rgb(200,190,85)" fill-opacity="0.70"/><rect x="388.7" y="752.5" width="8.1" height="3.8" fill="rgb(232,222,42)" fill-opacity="0.80"/><rect x="381.0" y="758.5" width="6.8" height="3.8" fill="rgb(200,190,85)" fill-opacity="0.70"/><rect x="387.8" y="758.5" width="7.0" height="3.8" fill="rgb(232,222,42)" fill-opacity="0.80"/><rect x="381.0" y="764.4" width="6.3" height="3.8" fill="rgb(200,190,85)" fill-opacity="0.70"/><rect x="387.3" y="764.4" width="6.5" height="3.8" fill="rgb(232,222,42)" fill-opacity="0.80"/><rect x="381.0" y="770.8" width="6.3" height="3.8" fill="rgb(200,190,85)" fill-opacity="0.70"/><rect x="387.3" y="770.8" width="6.5" height="3.8" fill="rgb(232,222,42)" fill-opacity="0.80"/><rect x="381.0" y="776.7" width="6.3" height="3.8" fill="rgb(200,190,85)" fill-opacity="0.70"/><rect x="387.3" y="776.7" width="6.5" height="3.8" fill="rgb(232,222,42)" fill-opacity="0.80"/><rect x="381.0" y="782.7" width="7.3" height="3.8" fill="rgb(200,190,85)" fill-opacity="0.70"/><rect x="388.3" y="782.7" width="7.5" height="3.8" fill="rgb(232,222,42)" fill-opacity="0.80"/><rect x="381.0" y="788.6" width="11.6" height="3.8" fill="rgb(200,190,85)" fill-opacity="0.70"/><rect x="392.6" y="788.6" width="12.1" height="3.8" fill="rgb(232,222,42)" fill-opacity="0.80"/><rect x="381.0" y="794.6" width="16.0" height="3.8" fill="rgb(200,190,85)" fill-opacity="0.70"/><rect x="397.0" y="794.6" width="16.7" height="3.8" fill="rgb(232,222,42)" fill-opacity="0.80"/><rect x="381.0" y="801.0" width="26.2" height="3.8" fill="rgb(200,190,85)" fill-opacity="0.70"/><rect x="407.2" y="801.0" width="27.3" height="3.8" fill="rgb(232,222,42)" fill-opacity="0.80"/><rect x="381.0" y="807.0" width="41.5" height="3.8" fill="rgb(200,190,85)" fill-opacity="0.70"/><rect x="422.5" y="807.0" width="43.2" height="3.8" fill="rgb(232,222,42)" fill-opacity="0.80"/><rect x="381.0" y="812.9" width="70.0" height="3.8" fill="rgb(200,190,85)" fill-opacity="0.70"/><rect x="451.0" y="812.9" width="72.8" height="3.8" fill="rgb(232,222,42)" fill-opacity="0.80"/><rect x="381.0" y="818.9" width="95.9" height="3.8" fill="rgb(200,190,85)" fill-opacity="0.70"/><rect x="476.9" y="818.9" width="99.9" height="3.8" fill="rgb(232,222,42)" fill-opacity="0.80"/><rect x="381.0" y="824.8" width="113.0" height="3.8" fill="rgb(200,190,85)" fill-opacity="0.70"/><rect x="494.0" y="824.8" width="117.7" height="3.8" fill="rgb(232,222,42)" fill-opacity="0.80"/><rect x="381.0" y="830.8" width="130.2" height="3.8" fill="rgb(200,190,85)" fill-opacity="0.70"/><rect x="511.2" y="830.8" width="135.6" height="3.8" fill="rgb(232,222,42)" fill-opacity="0.80"/><rect x="381.0" y="836.7" width="141.0" height="3.8" fill="rgb(200,190,85)" fill-opacity="0.70"/><rect x="522.0" y="836.7" width="146.7" height="3.8" fill="rgb(232,222,42)" fill-opacity="0.80"/><rect x="381.0" y="842.7" width="111.6" height="3.8" fill="rgb(200,190,85)" fill-opacity="0.70"/><rect x="492.6" y="842.7" width="116.1" height="3.8" fill="rgb(232,222,42)" fill-opacity="0.80"/><rect x="381.0" y="848.6" width="105.3" height="3.8" fill="rgb(200,190,85)" fill-opacity="0.70"/><rect x="486.3" y="848.6" width="109.5" height="3.8" fill="rgb(232,222,42)" fill-opacity="0.80"/><rect x="381.0" y="854.6" width="121.8" height="3.8" fill="rgb(200,190,85)" fill-opacity="0.70"/><rect x="502.8" y="854.6" width="126.8" height="3.8" fill="rgb(232,222,42)" fill-opacity="0.80"/><rect x="381.0" y="860.5" width="147.9" height="3.8" fill="rgb(200,190,85)" fill-opacity="0.70"/><rect x="528.9" y="860.5" width="153.9" height="3.8" fill="rgb(232,222,42)" fill-opacity="0.80"/><rect x="381.0" y="866.5" width="165.0" height="3.8" fill="rgb(200,190,85)" fill-opacity="0.70"/><rect x="546.0" y="866.5" width="171.7" height="3.8" fill="rgb(232,222,42)" fill-opacity="0.80"/><rect x="381.0" y="872.4" width="154.7" height="3.8" fill="rgb(200,190,85)" fill-opacity="0.70"/><rect x="535.7" y="872.4" width="161.0" height="3.8" fill="rgb(232,222,42)" fill-opacity="0.80"/><rect x="381.0" y="878.4" width="160.0" height="3.8" fill="rgb(200,190,85)" fill-opacity="0.70"/><rect x="541.0" y="878.4" width="166.6" height="3.8" fill="rgb(232,222,42)" fill-opacity="0.80"/><rect x="381.0" y="884.3" width="172.0" height="3.8" fill="#ee9644"/><rect x="553.0" y="884.3" width="179.0" height="3.8" fill="#f2b620"/><rect x="381.0" y="889.9" width="167.4" height="3.8" fill="rgb(200,190,85)" fill-opacity="0.70"/><rect x="548.4" y="889.9" width="174.3" height="3.8" fill="rgb(232,222,42)" fill-opacity="0.80"/><rect x="381.0" y="895.9" width="139.5" height="3.8" fill="rgb(200,190,85)" fill-opacity="0.70"/><rect x="520.5" y="895.9" width="145.2" height="3.8" fill="rgb(232,222,42)" fill-opacity="0.80"/><rect x="381.0" y="901.8" width="116.5" height="3.8" fill="rgb(200,190,85)" fill-opacity="0.70"/><rect x="497.5" y="901.8" width="121.2" height="3.8" fill="rgb(232,222,42)" fill-opacity="0.80"/><rect x="381.0" y="907.8" width="83.1" height="3.8" fill="rgb(200,190,85)" fill-opacity="0.70"/><rect x="464.1" y="907.8" width="86.5" height="3.8" fill="rgb(232,222,42)" fill-opacity="0.80"/><rect x="381.0" y="913.7" width="72.9" height="3.8" fill="rgb(200,190,85)" fill-opacity="0.70"/><rect x="453.9" y="913.7" width="75.9" height="3.8" fill="rgb(232,222,42)" fill-opacity="0.80"/><rect x="381.0" y="919.7" width="78.7" height="3.8" fill="rgb(200,190,85)" fill-opacity="0.70"/><rect x="459.7" y="919.7" width="82.0" height="3.8" fill="rgb(232,222,42)" fill-opacity="0.80"/><rect x="381.0" y="925.6" width="90.9" height="3.8" fill="rgb(200,190,85)" fill-opacity="0.70"/><rect x="471.9" y="925.6" width="94.6" height="3.8" fill="rgb(232,222,42)" fill-opacity="0.80"/><rect x="381.0" y="931.6" width="120.8" height="3.8" fill="rgb(200,190,85)" fill-opacity="0.70"/><rect x="501.8" y="931.6" width="125.8" height="3.8" fill="rgb(232,222,42)" fill-opacity="0.80"/><rect x="381.0" y="937.5" width="123.3" height="3.8" fill="rgb(200,190,85)" fill-opacity="0.70"/><rect x="504.3" y="937.5" width="128.3" height="3.8" fill="rgb(232,222,42)" fill-opacity="0.80"/><rect x="381.0" y="943.5" width="104.2" height="3.8" fill="rgb(200,190,85)" fill-opacity="0.70"/><rect x="485.2" y="943.5" width="108.5" height="3.8" fill="rgb(232,222,42)" fill-opacity="0.80"/><rect x="381.0" y="949.4" width="100.8" height="3.8" fill="rgb(200,190,85)" fill-opacity="0.70"/><rect x="481.8" y="949.4" width="104.9" height="3.8" fill="rgb(232,222,42)" fill-opacity="0.80"/><rect x="381.0" y="955.8" width="97.4" height="3.8" fill="rgb(200,190,85)" fill-opacity="0.70"/><rect x="478.4" y="955.8" width="101.4" height="3.8" fill="rgb(232,222,42)" fill-opacity="0.80"/><rect x="381.0" y="961.7" width="70.0" height="3.8" fill="rgb(200,190,85)" fill-opacity="0.70"/><rect x="451.0" y="961.7" width="72.8" height="3.8" fill="rgb(232,222,42)" fill-opacity="0.80"/><rect x="381.0" y="967.7" width="59.6" height="3.8" fill="rgb(200,190,85)" fill-opacity="0.70"/><rect x="440.6" y="967.7" width="62.0" height="3.8" fill="rgb(232,222,42)" fill-opacity="0.80"/><rect x="381.0" y="973.6" width="55.7" height="3.8" fill="rgb(200,190,85)" fill-opacity="0.70"/><rect x="436.7" y="973.6" width="57.9" height="3.8" fill="rgb(232,222,42)" fill-opacity="0.80"/><rect x="381.0" y="979.6" width="51.8" height="3.8" fill="rgb(200,190,85)" fill-opacity="0.70"/><rect x="432.8" y="979.6" width="53.9" height="3.8" fill="rgb(232,222,42)" fill-opacity="0.80"/><rect x="381.0" y="985.6" width="54.7" height="3.8" fill="rgb(200,190,85)" fill-opacity="0.70"/><rect x="435.7" y="985.6" width="56.9" height="3.8" fill="rgb(232,222,42)" fill-opacity="0.80"/><rect x="381.0" y="991.5" width="62.5" height="3.8" fill="rgb(200,190,85)" fill-opacity="0.70"/><rect x="443.5" y="991.5" width="65.0" height="3.8" fill="rgb(232,222,42)" fill-opacity="0.80"/><rect x="381.0" y="997.5" width="76.8" height="3.8" fill="rgb(200,190,85)" fill-opacity="0.70"/><rect x="457.8" y="997.5" width="79.9" height="3.8" fill="rgb(232,222,42)" fill-opacity="0.80"/><rect x="381.0" y="1003.4" width="70.0" height="3.8" fill="rgb(200,190,85)" fill-opacity="0.70"/><rect x="451.0" y="1003.4" width="72.8" height="3.8" fill="rgb(232,222,42)" fill-opacity="0.80"/><rect x="381.0" y="1009.4" width="53.8" height="3.8" fill="rgb(200,190,85)" fill-opacity="0.70"/><rect x="434.8" y="1009.4" width="55.9" height="3.8" fill="rgb(232,222,42)" fill-opacity="0.80"/><rect x="381.0" y="1015.4" width="37.6" height="3.8" fill="rgb(200,190,85)" fill-opacity="0.70"/><rect x="418.6" y="1015.4" width="39.1" height="3.8" fill="rgb(232,222,42)" fill-opacity="0.80"/><rect x="381.0" y="1021.3" width="26.7" height="3.8" fill="rgb(200,190,85)" fill-opacity="0.70"/><rect x="407.7" y="1021.3" width="27.8" height="3.8" fill="rgb(232,222,42)" fill-opacity="0.80"/><rect x="381.0" y="1027.2" width="23.8" height="3.8" fill="rgb(200,190,85)" fill-opacity="0.70"/><rect x="404.8" y="1027.2" width="24.7" height="3.8" fill="rgb(232,222,42)" fill-opacity="0.80"/><rect x="381.0" y="1033.2" width="18.9" height="3.8" fill="rgb(200,190,85)" fill-opacity="0.70"/><rect x="399.9" y="1033.2" width="19.7" height="3.8" fill="rgb(232,222,42)" fill-opacity="0.80"/><rect x="381.0" y="1039.1" width="10.2" height="3.8" fill="rgb(200,190,85)" fill-opacity="0.70"/><rect x="391.2" y="1039.1" width="10.6" height="3.8" fill="rgb(232,222,42)" fill-opacity="0.80"/><rect x="381.0" y="1045.1" width="6.3" height="3.8" fill="rgb(200,190,85)" fill-opacity="0.70"/><rect x="387.3" y="1045.1" width="6.5" height="3.8" fill="rgb(232,222,42)" fill-opacity="0.80"/><rect x="381.0" y="1051.1" width="5.3" height="3.8" fill="rgb(200,190,85)" fill-opacity="0.70"/><rect x="386.3" y="1051.1" width="5.5" height="3.8" fill="rgb(232,222,42)" fill-opacity="0.80"/><rect x="381.0" y="1057.0" width="4.3" height="3.8" fill="rgb(200,190,85)" fill-opacity="0.70"/><rect x="385.3" y="1057.0" width="4.5" height="3.8" fill="rgb(232,222,42)" fill-opacity="0.80"/>
<rect x="732" y="885" width="833" height="4" fill="#d8352a"/>
<line x1="382" y1="364.8" x2="1562" y2="364.8" stroke="#d2463a" stroke-width="3.5" stroke-dasharray="3.5 8.5"/>
<line x1="382" y1="1062.8" x2="1562" y2="1062.8" stroke="#d2463a" stroke-width="3.5" stroke-dasharray="3.5 8.5"/>
<line x1="1156" y1="1063.5" x2="2555" y2="1063.5" stroke="#b4b7bf" stroke-width="3.5" stroke-dasharray="3.5 8.5"/>
<rect x="798" y="329.8" width="1757" height="2.4" fill="#fcf84c"/>
<rect x="20.5" y="948.8" width="2535" height="2.4" fill="#fbf894"/>
<text x="466" y="114" font-size="46" font-weight="bold" font-style="italic" fill="#8e8f97" textLength="350" lengthAdjust="spacingAndGlyphs">point of control</text>
<text x="1662" y="314.6" font-size="55" font-weight="bold" font-style="italic" fill="#d22d1f" textLength="529" lengthAdjust="spacingAndGlyphs">htf resistance $187</text>
<text x="1221" y="418" font-size="47" font-weight="bold" font-style="italic" fill="#8a8a8c" textLength="339" lengthAdjust="spacingAndGlyphs">value area high</text>
<text x="777" y="876" font-size="47" font-weight="bold" font-style="italic" fill="#8a8a8c" textLength="180" lengthAdjust="spacingAndGlyphs">point of</text>
<text x="779" y="923.6" font-size="47" font-weight="bold" font-style="italic" fill="#8a8a8c" textLength="163" lengthAdjust="spacingAndGlyphs">control</text>
<text x="1718" y="917.4" font-size="54" font-weight="bold" font-style="italic" fill="#17921f" textLength="454" lengthAdjust="spacingAndGlyphs">htf support $131</text>
<text x="808" y="1053" font-size="47" font-weight="bold" font-style="italic" fill="#8a8a8c" textLength="318" lengthAdjust="spacingAndGlyphs">value area low</text>
<text x="1156" y="1112.3" font-size="55" font-weight="bold" font-style="italic" fill="#8a8a8c" textLength="262" lengthAdjust="spacingAndGlyphs">swing low</text>
<text x="37" y="97" font-size="24" fill="#5d5f68" textLength="469" lengthAdjust="spacingAndGlyphs">SOLUSDT Perpetual Contract · 12h · Bybit</text>
<text x="521" y="97" font-size="24" fill="#22ab3a" textLength="171" lengthAdjust="spacingAndGlyphs">+0.31 (+0.22%)</text>
<circle cx="537" cy="81" r="3.2" fill="#8a8b92"/>
<g stroke="#e0507c" stroke-width="4" stroke-dasharray="4 7" fill="none">
<line x1="1608.3" y1="818.4" x2="1806" y2="418.3"/>
<line x1="1806" y1="418.3" x2="1783.8" y2="422.7"/>
<line x1="1806" y1="418.3" x2="1813.5" y2="440.6"/>
</g>
<circle cx="1560.8" cy="1176.8" r="19.5" fill="#141414" stroke="#a652c6" stroke-width="3"/>
<path d="M1566.65,1167.3 L1563,1175.9 L1569.44,1176.3 L1554.82,1187.5 L1559.8,1177.9 L1552.67,1177.8 Z" fill="#a652c6"/>
<circle cx="1574.8" cy="1163" r="8.5" fill="#000" /><circle cx="1574.8" cy="1163" r="5.2" fill="#f03a3f"/>
</g>
<rect x="20.5" y="1202" width="2677" height="2.2" fill="#f4f4f4"/>
<g clip-path="url(#rsipane)">
<rect x="20.5" y="1251" width="2534" height="181" fill="#0e0b18"/>
<line x1="20.5" y1="1251.1" x2="2555" y2="1251.1" stroke="#6c6b75" stroke-width="2" stroke-dasharray="10 12" stroke-dashoffset="0.4"/>
<line x1="20.5" y1="1341.2" x2="2555" y2="1341.2" stroke="#6c6b75" stroke-width="2" stroke-dasharray="10 12" stroke-dashoffset="0.4"/>
<line x1="20.5" y1="1431.8" x2="2555" y2="1431.8" stroke="#6c6b75" stroke-width="2" stroke-dasharray="10 12" stroke-dashoffset="0.4"/>
<g clip-path="url(#below30)"><polygon points="20.5,1322.7 28.3,1391.3 37.7,1395.4 47.1,1399.6 56.5,1419.4 65.9,1422.7 75.3,1425.2 84.7,1453.3 94.1,1470.7 103.5,1465.7 112.9,1399.6 122.3,1408.7 131.7,1400.1 141.1,1410.3 150.6,1359.9 160.0,1372.3 169.4,1350.0 178.8,1368.6 188.2,1361.5 197.6,1329.3 207.0,1316.9 216.4,1304.5 225.8,1278.9 235.2,1295.9 244.6,1289.6 254.0,1305.3 263.4,1311.4 272.8,1296.2 282.2,1314.4 291.6,1299.9 301.0,1302.5 310.4,1311.4 319.8,1355.4 329.2,1350.0 338.6,1321.0 348.0,1343.3 357.4,1351.6 366.8,1350.8 376.2,1431.8 385.7,1440.9 395.1,1450.0 404.5,1435.1 413.9,1379.7 423.3,1389.6 432.7,1344.2 442.1,1373.1 451.5,1355.3 460.9,1355.3 470.3,1373.9 479.7,1365.3 489.1,1388.8 498.5,1395.8 507.9,1394.6 517.3,1381.4 526.7,1376.4 536.1,1371.5 545.5,1375.3 554.9,1358.7 564.3,1366.5 573.7,1376.4 583.1,1378.1 592.5,1380.2 601.9,1395.8 611.3,1361.5 620.8,1348.3 630.2,1345.0 639.6,1339.2 649.0,1343.8 658.4,1337.9 667.8,1321.0 677.2,1311.4 686.6,1311.1 696.0,1320.2 705.4,1314.7 714.8,1346.7 724.2,1322.7 733.6,1347.5 743.0,1357.7 752.4,1388.0 761.8,1364.3 771.2,1370.6 780.6,1375.9 790.0,1374.8 799.4,1375.9 808.8,1364.8 818.2,1416.9 827.6,1440.9 837.0,1453.3 846.4,1464.9 855.9,1449.2 865.3,1421.1 874.7,1430.2 884.1,1438.4 893.5,1442.6 902.9,1397.1 912.3,1403.7 921.7,1408.7 931.1,1402.1 940.5,1372.3 949.9,1354.1 959.3,1358.2 968.7,1374.8 978.1,1405.4 987.5,1378.1 996.9,1398.7 1006.3,1384.7 1015.7,1416.9 1025.1,1426.0 1034.5,1430.5 1043.9,1423.2 1053.3,1424.9 1062.7,1422.7 1072.1,1431.0 1081.5,1402.1 1091.0,1432.6 1100.4,1396.3 1109.8,1383.9 1119.2,1390.5 1128.6,1395.1 1138.0,1370.6 1147.4,1397.1 1156.8,1421.9 1166.2,1401.2 1175.6,1407.0 1185.0,1402.1 1194.4,1391.3 1203.8,1387.2 1213.2,1390.5 1222.6,1347.5 1232.0,1356.6 1241.4,1343.8 1250.8,1353.3 1260.2,1326.0 1269.6,1330.6 1279.0,1336.7 1288.4,1335.9 1297.8,1354.1 1307.2,1354.4 1316.6,1361.9 1326.1,1358.7 1335.5,1373.9 1344.9,1402.9 1354.3,1405.4 1363.7,1393.0 1373.1,1330.1 1382.5,1315.2 1391.9,1302.8 1401.3,1313.6 1410.7,1335.9 1420.1,1346.7 1429.5,1364.8 1438.9,1366.0 1448.3,1371.0 1457.7,1369.0 1467.1,1370.3 1476.5,1329.3 1485.9,1359.1 1495.3,1361.0 1504.7,1330.6 1514.1,1335.1 1523.5,1340.5 1532.9,1372.0 1542.3,1338.9 1551.7,1325.7 1561.2,1324.0 1561.2,1431.8 20.5,1431.8" fill="url(#osg)"/></g>
<polyline points="20.5,1286.3 27.9,1292.9 47.8,1311.1 56.0,1321.9 67.6,1331.8 75.0,1340.9 84.1,1355.8 92.4,1369.0 102.3,1383.9 112.3,1392.1 122.2,1399.6 132.1,1407.0 141.2,1412.8 150.3,1416.1 160.2,1414.5 173.4,1410.3 186.7,1405.4 196.6,1399.6 208.2,1390.5 216.4,1380.6 224.7,1369.0 233.0,1358.2 242.9,1347.5 252.8,1339.2 262.7,1333.4 272.7,1324.3 282.6,1320.2 292.5,1315.2 305.7,1310.3 315.6,1307.8 325.6,1308.1 338.8,1309.8 348.7,1312.8 365.3,1321.9 381.8,1337.6 395.0,1350.8 403.3,1361.5 413.3,1365.3 426.5,1372.3 443.1,1379.7 459.6,1379.7 472.8,1383.9 486.1,1387.2 497.6,1391.3 509.2,1388.0 525.8,1378.1 537.3,1373.9 553.9,1372.3 573.7,1374.3 591.9,1378.1 601.8,1379.2 611.7,1379.2 633.2,1370.6 649.8,1364.3 668.0,1357.7 686.1,1350.5 704.3,1343.8 720.9,1337.6 734.1,1333.9 742.4,1333.9 753.9,1336.2 770.5,1338.9 790.3,1345.0 802.0,1349.1 808.6,1352.4 826.8,1367.3 838.4,1382.2 854.9,1396.3 874.8,1407.0 894.6,1416.1 914.4,1421.1 927.7,1423.5 939.2,1424.4 950.8,1418.6 967.4,1408.7 987.2,1399.6 1005.4,1393.8 1023.6,1391.8 1036.8,1394.6 1061.6,1397.9 1079.8,1405.4 1089.7,1410.3 1099.6,1412.0 1111.2,1411.1 1132.7,1411.1 1155.9,1408.7 1182.3,1404.5 1194.0,1401.2 1210.5,1397.1 1223.8,1390.5 1248.6,1383.9 1271.7,1374.8 1288.3,1365.7 1309.8,1355.8 1326.3,1352.4 1342.8,1352.1 1351.1,1354.9 1364.3,1358.7 1375.9,1356.6 1400.7,1352.9 1425.5,1353.8 1450.3,1355.8 1465.2,1356.1 1475.1,1351.6 1495.0,1345.0 1508.2,1345.8 1524.7,1350.0 1533.0,1353.8 1544.6,1353.8 1561.1,1348.8" fill="none" stroke="#5e5634" stroke-width="1.7"/>
<polyline points="20.5,1322.7 28.3,1391.3 37.7,1395.4 47.1,1399.6 56.5,1419.4 65.9,1422.7 75.3,1425.2 84.7,1453.3 94.1,1470.7 103.5,1465.7 112.9,1399.6 122.3,1408.7 131.7,1400.1 141.1,1410.3 150.6,1359.9 160.0,1372.3 169.4,1350.0 178.8,1368.6 188.2,1361.5 197.6,1329.3 207.0,1316.9 216.4,1304.5 225.8,1278.9 235.2,1295.9 244.6,1289.6 254.0,1305.3 263.4,1311.4 272.8,1296.2 282.2,1314.4 291.6,1299.9 301.0,1302.5 310.4,1311.4 319.8,1355.4 329.2,1350.0 338.6,1321.0 348.0,1343.3 357.4,1351.6 366.8,1350.8 376.2,1431.8 385.7,1440.9 395.1,1450.0 404.5,1435.1 413.9,1379.7 423.3,1389.6 432.7,1344.2 442.1,1373.1 451.5,1355.3 460.9,1355.3 470.3,1373.9 479.7,1365.3 489.1,1388.8 498.5,1395.8 507.9,1394.6 517.3,1381.4 526.7,1376.4 536.1,1371.5 545.5,1375.3 554.9,1358.7 564.3,1366.5 573.7,1376.4 583.1,1378.1 592.5,1380.2 601.9,1395.8 611.3,1361.5 620.8,1348.3 630.2,1345.0 639.6,1339.2 649.0,1343.8 658.4,1337.9 667.8,1321.0 677.2,1311.4 686.6,1311.1 696.0,1320.2 705.4,1314.7 714.8,1346.7 724.2,1322.7 733.6,1347.5 743.0,1357.7 752.4,1388.0 761.8,1364.3 771.2,1370.6 780.6,1375.9 790.0,1374.8 799.4,1375.9 808.8,1364.8 818.2,1416.9 827.6,1440.9 837.0,1453.3 846.4,1464.9 855.9,1449.2 865.3,1421.1 874.7,1430.2 884.1,1438.4 893.5,1442.6 902.9,1397.1 912.3,1403.7 921.7,1408.7 931.1,1402.1 940.5,1372.3 949.9,1354.1 959.3,1358.2 968.7,1374.8 978.1,1405.4 987.5,1378.1 996.9,1398.7 1006.3,1384.7 1015.7,1416.9 1025.1,1426.0 1034.5,1430.5 1043.9,1423.2 1053.3,1424.9 1062.7,1422.7 1072.1,1431.0 1081.5,1402.1 1091.0,1432.6 1100.4,1396.3 1109.8,1383.9 1119.2,1390.5 1128.6,1395.1 1138.0,1370.6 1147.4,1397.1 1156.8,1421.9 1166.2,1401.2 1175.6,1407.0 1185.0,1402.1 1194.4,1391.3 1203.8,1387.2 1213.2,1390.5 1222.6,1347.5 1232.0,1356.6 1241.4,1343.8 1250.8,1353.3 1260.2,1326.0 1269.6,1330.6 1279.0,1336.7 1288.4,1335.9 1297.8,1354.1 1307.2,1354.4 1316.6,1361.9 1326.1,1358.7 1335.5,1373.9 1344.9,1402.9 1354.3,1405.4 1363.7,1393.0 1373.1,1330.1 1382.5,1315.2 1391.9,1302.8 1401.3,1313.6 1410.7,1335.9 1420.1,1346.7 1429.5,1364.8 1438.9,1366.0 1448.3,1371.0 1457.7,1369.0 1467.1,1370.3 1476.5,1329.3 1485.9,1359.1 1495.3,1361.0 1504.7,1330.6 1514.1,1335.1 1523.5,1340.5 1532.9,1372.0 1542.3,1338.9 1551.7,1325.7 1561.2,1324.0" fill="none" stroke="#f7c9da" stroke-width="2" stroke-linejoin="miter"/>
<line x1="846" y1="1471.6" x2="1768" y2="1346.7" stroke="#e2468b" stroke-width="4.5" stroke-linecap="round"/>
<g stroke="#e9a032" stroke-width="3.6" fill="none" stroke-linecap="round" stroke-linejoin="round">
<path d="M1654,1412.5 Q1670,1392 1663.4,1367"/>
<path d="M1647,1392 L1663.4,1366.9 L1688,1384"/>
</g>
<text x="1521" y="1452.6" font-size="47" font-weight="bold" font-style="italic" fill="#d9952e" textLength="251" lengthAdjust="spacingAndGlyphs">rsi uptrend</text>
</g>
<rect x="2554" y="54.3" width="2" height="1514.9" fill="#585766"/>
<rect x="20.5" y="1514" width="2677" height="2" fill="#585766"/>
<text x="2573.5" y="203.8" font-size="25.5" fill="#5c5d65" textLength="80" lengthAdjust="spacingAndGlyphs">200.00</text>
<text x="2573.5" y="314.3" font-size="25.5" fill="#5c5d65" textLength="80" lengthAdjust="spacingAndGlyphs">190.00</text>
<text x="2573.5" y="535.3" font-size="25.5" fill="#5c5d65" textLength="80" lengthAdjust="spacingAndGlyphs">170.00</text>
<text x="2573.5" y="645.8" font-size="25.5" fill="#5c5d65" textLength="80" lengthAdjust="spacingAndGlyphs">160.00</text>
<text x="2573.5" y="756.3" font-size="25.5" fill="#5c5d65" textLength="80" lengthAdjust="spacingAndGlyphs">150.00</text>
<text x="2573.5" y="866.8" font-size="25.5" fill="#5c5d65" textLength="80" lengthAdjust="spacingAndGlyphs">140.00</text>
<text x="2573.5" y="977.3" font-size="25.5" fill="#5c5d65" textLength="80" lengthAdjust="spacingAndGlyphs">130.00</text>
<text x="2573.5" y="1087.8" font-size="25.5" fill="#5c5d65" textLength="80" lengthAdjust="spacingAndGlyphs">120.00</text>
<text x="2573.5" y="1198.3" font-size="25.5" fill="#5c5d65" textLength="80" lengthAdjust="spacingAndGlyphs">110.00</text>
<g clip-path="url(#axisR)">
<text x="2573.5" y="1215.5" font-size="25.5" fill="#5c5d65" textLength="65" lengthAdjust="spacingAndGlyphs">80.00</text>
<text x="2573.5" y="1305.5" font-size="25.5" fill="#5c5d65" textLength="65" lengthAdjust="spacingAndGlyphs">60.00</text>
<text x="2573.5" y="1396.0" font-size="25.5" fill="#5c5d65" textLength="65" lengthAdjust="spacingAndGlyphs">40.00</text>
</g>
<rect x="2561.5" y="61.3" width="128.7" height="53.2" rx="8" fill="#121212" stroke="#3a3a3c" stroke-width="1.5"/>
<text x="2581.5" y="97" font-size="24" fill="#dcdcdc" textLength="63" lengthAdjust="spacingAndGlyphs">USDT</text>
<path d="M2556,314.0 h106.5 a4,4 0 0 1 4,4 v25.4 a4,4 0 0 1 -4,4 h-106.5 z" fill="#ffeb0b"/><text x="2574" y="339.5" font-size="25.5" fill="#000000" textLength="79" lengthAdjust="spacingAndGlyphs">187.68</text>
<path d="M2556,399.0 h106.5 a4,4 0 0 1 4,4 v25.4 a4,4 0 0 1 -4,4 h-106.5 z" fill="#e8427c"/><text x="2574" y="424.5" font-size="25.5" fill="#ffffff" textLength="79" lengthAdjust="spacingAndGlyphs">179.96</text>
<path d="M2556,803.3 h106.5 a4,4 0 0 1 4,4 v25.4 a4,4 0 0 1 -4,4 h-106.5 z" fill="#e8427c"/><text x="2574" y="828.8" font-size="25.5" fill="#ffffff" textLength="79" lengthAdjust="spacingAndGlyphs">143.40</text>
<path d="M2556,933.3 h106.5 a4,4 0 0 1 4,4 v25.4 a4,4 0 0 1 -4,4 h-106.5 z" fill="#ffeb0b"/><text x="2574" y="958.8" font-size="25.5" fill="#000000" textLength="79" lengthAdjust="spacingAndGlyphs">131.64</text>
<path d="M2556,1046.0 h106.5 a4,4 0 0 1 4,4 v25.4 a4,4 0 0 1 -4,4 h-106.5 z" fill="#a4a7ae"/><text x="2574" y="1071.5" font-size="25.5" fill="#0c0c10" textLength="79" lengthAdjust="spacingAndGlyphs">121.37</text>
<path d="M2556,1329.8 h89.5 a4,4 0 0 1 4,4 v25.4 a4,4 0 0 1 -4,4 h-89.5 z" fill="#e8427c"/><text x="2574" y="1355.3" font-size="25.5" fill="#ffffff" textLength="65" lengthAdjust="spacingAndGlyphs">48.84</text>
<path d="M2556,1455.3 h89.5 a4,4 0 0 1 4,4 v25.4 a4,4 0 0 1 -4,4 h-89.5 z" fill="#e8427c"/><text x="2574" y="1480.8" font-size="25.5" fill="#ffffff" textLength="65" lengthAdjust="spacingAndGlyphs">21.21</text>
<path d="M2556,852 h127.9 a4,4 0 0 1 4,4 v53.3 a4,4 0 0 1 -4,4 h-127.9 z" fill="#22bb3c"/>
<text x="2574" y="878" font-size="25.5" fill="#ffffff" textLength="79" lengthAdjust="spacingAndGlyphs">138.97</text>
<text x="2574" y="905.7" font-size="25.5" fill="#c9f3cc" textLength="101" lengthAdjust="spacingAndGlyphs">09:12:13</text>
<text x="197.4" y="1552" font-size="24.5" fill="#606169" text-anchor="middle">Oct</text>
<text x="779.6" y="1552" font-size="24.5" fill="#606169" text-anchor="middle">Nov</text>
<text x="1344" y="1552" font-size="24.5" fill="#606169" text-anchor="middle">Dec</text>
<text x="1896" y="1552" font-size="25" font-weight="bold" fill="#606169" textLength="63" lengthAdjust="spacingAndGlyphs">2026</text>
<text x="2510" y="1552" font-size="24.5" fill="#606169" text-anchor="middle">Feb</text>
<g fill="#131313">
<path d="M24,1614 H47.8 V1643.7 H36 V1625.6 H24 Z"/>
<circle cx="57.9" cy="1620" r="5.8"/>
<path d="M70,1614 H83.8 L72,1643.7 H58 Z"/>
</g>
<text x="97" y="1644.5" font-size="42" font-weight="bold" fill="#131313" textLength="242" lengthAdjust="spacingAndGlyphs">TradingView</text>
</svg></body></html>
